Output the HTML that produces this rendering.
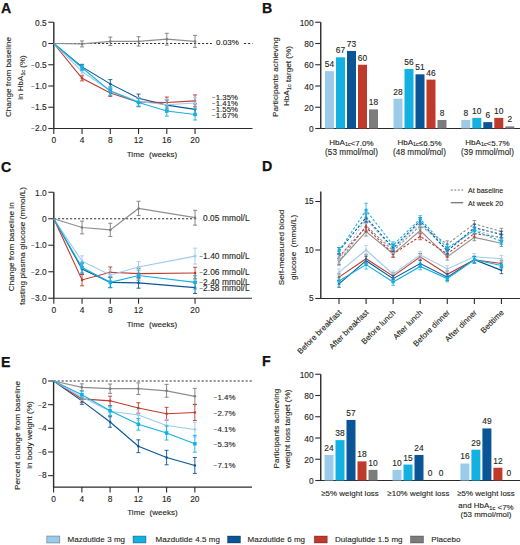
<!DOCTYPE html><html><head><meta charset="utf-8"><style>html,body{margin:0;padding:0;background:#fff;width:520px;height:545px;overflow:hidden}svg{display:block}text{font-family:"Liberation Sans",sans-serif;white-space:pre}</style></head><body><svg width="520" height="545" viewBox="0 0 520 545" font-family="Liberation Sans, sans-serif">
<rect width="520" height="545" fill="#fff"/>
<text x="0" y="0" font-size="14.2" font-weight="bold" fill="#111" stroke="#111" stroke-width="0.25" transform="translate(1,13)">A</text>
<line x1="54.00" y1="43.50" x2="212.00" y2="43.50" stroke="#333" stroke-width="1.0" stroke-dasharray="2.2,1.8"/>
<line x1="244.00" y1="43.50" x2="252.50" y2="43.50" stroke="#333" stroke-width="1.0" stroke-dasharray="2.2,1.8"/>
<line x1="53.80" y1="22.25" x2="53.80" y2="129.00" stroke="#2b2b2b" stroke-width="1.4" />
<line x1="53.80" y1="128.50" x2="252.50" y2="128.50" stroke="#2b2b2b" stroke-width="1.2" />
<line x1="48.30" y1="22.25" x2="53.80" y2="22.25" stroke="#2b2b2b" stroke-width="1.1" />
<text x="46.80" y="25.69" font-size="8.4" text-anchor="end" fill="#231f20" stroke="#231f20" stroke-width="0.12" letter-spacing="0.05" >0.5</text>
<line x1="48.30" y1="43.50" x2="53.80" y2="43.50" stroke="#2b2b2b" stroke-width="1.1" />
<text x="46.80" y="46.94" font-size="8.4" text-anchor="end" fill="#231f20" stroke="#231f20" stroke-width="0.12" letter-spacing="0.05" >0</text>
<line x1="48.30" y1="64.75" x2="53.80" y2="64.75" stroke="#2b2b2b" stroke-width="1.1" />
<text x="46.80" y="68.19" font-size="8.4" text-anchor="end" fill="#231f20" stroke="#231f20" stroke-width="0.12" letter-spacing="0.05" ><tspan font-size="6.2" dy="-0.6">−</tspan><tspan dy="0.6"></tspan>0.5</text>
<line x1="48.30" y1="86.00" x2="53.80" y2="86.00" stroke="#2b2b2b" stroke-width="1.1" />
<text x="46.80" y="89.44" font-size="8.4" text-anchor="end" fill="#231f20" stroke="#231f20" stroke-width="0.12" letter-spacing="0.05" ><tspan font-size="6.2" dy="-0.6">−</tspan><tspan dy="0.6"></tspan>1.0</text>
<line x1="48.30" y1="107.25" x2="53.80" y2="107.25" stroke="#2b2b2b" stroke-width="1.1" />
<text x="46.80" y="110.69" font-size="8.4" text-anchor="end" fill="#231f20" stroke="#231f20" stroke-width="0.12" letter-spacing="0.05" ><tspan font-size="6.2" dy="-0.6">−</tspan><tspan dy="0.6"></tspan>1.5</text>
<line x1="48.30" y1="128.50" x2="53.80" y2="128.50" stroke="#2b2b2b" stroke-width="1.1" />
<text x="46.80" y="131.94" font-size="8.4" text-anchor="end" fill="#231f20" stroke="#231f20" stroke-width="0.12" letter-spacing="0.05" ><tspan font-size="6.2" dy="-0.6">−</tspan><tspan dy="0.6"></tspan>2.0</text>
<line x1="53.80" y1="128.50" x2="53.80" y2="134.00" stroke="#2b2b2b" stroke-width="1.1" />
<text x="53.80" y="142.94" font-size="8.4" text-anchor="middle" fill="#231f20" stroke="#231f20" stroke-width="0.12" letter-spacing="0.05" >0</text>
<line x1="82.05" y1="128.50" x2="82.05" y2="134.00" stroke="#2b2b2b" stroke-width="1.1" />
<text x="82.05" y="142.94" font-size="8.4" text-anchor="middle" fill="#231f20" stroke="#231f20" stroke-width="0.12" letter-spacing="0.05" >4</text>
<line x1="110.30" y1="128.50" x2="110.30" y2="134.00" stroke="#2b2b2b" stroke-width="1.1" />
<text x="110.30" y="142.94" font-size="8.4" text-anchor="middle" fill="#231f20" stroke="#231f20" stroke-width="0.12" letter-spacing="0.05" >8</text>
<line x1="138.55" y1="128.50" x2="138.55" y2="134.00" stroke="#2b2b2b" stroke-width="1.1" />
<text x="138.55" y="142.94" font-size="8.4" text-anchor="middle" fill="#231f20" stroke="#231f20" stroke-width="0.12" letter-spacing="0.05" >12</text>
<line x1="166.80" y1="128.50" x2="166.80" y2="134.00" stroke="#2b2b2b" stroke-width="1.1" />
<text x="166.80" y="142.94" font-size="8.4" text-anchor="middle" fill="#231f20" stroke="#231f20" stroke-width="0.12" letter-spacing="0.05" >16</text>
<line x1="195.05" y1="128.50" x2="195.05" y2="134.00" stroke="#2b2b2b" stroke-width="1.1" />
<text x="195.05" y="142.94" font-size="8.4" text-anchor="middle" fill="#231f20" stroke="#231f20" stroke-width="0.12" letter-spacing="0.05" >20</text>
<polyline points="53.80,43.50 82.05,43.92 110.30,41.38 138.55,41.38 166.80,39.25 195.05,41.38" fill="none" stroke="#8e8e8e" stroke-width="1.25"/>
<line x1="82.05" y1="40.95" x2="82.05" y2="46.90" stroke="#7c7c7c" stroke-width="0.9" />
<line x1="80.05" y1="40.95" x2="84.05" y2="40.95" stroke="#7c7c7c" stroke-width="0.9" />
<line x1="80.05" y1="46.90" x2="84.05" y2="46.90" stroke="#7c7c7c" stroke-width="0.9" />
<circle cx="82.05" cy="43.92" r="1.25" fill="#7c7c7c"/>
<line x1="110.30" y1="37.12" x2="110.30" y2="45.62" stroke="#7c7c7c" stroke-width="0.9" />
<line x1="108.30" y1="37.12" x2="112.30" y2="37.12" stroke="#7c7c7c" stroke-width="0.9" />
<line x1="108.30" y1="45.62" x2="112.30" y2="45.62" stroke="#7c7c7c" stroke-width="0.9" />
<circle cx="110.30" cy="41.38" r="1.25" fill="#7c7c7c"/>
<line x1="138.55" y1="36.70" x2="138.55" y2="46.05" stroke="#7c7c7c" stroke-width="0.9" />
<line x1="136.55" y1="36.70" x2="140.55" y2="36.70" stroke="#7c7c7c" stroke-width="0.9" />
<line x1="136.55" y1="46.05" x2="140.55" y2="46.05" stroke="#7c7c7c" stroke-width="0.9" />
<circle cx="138.55" cy="41.38" r="1.25" fill="#7c7c7c"/>
<line x1="166.80" y1="33.30" x2="166.80" y2="45.20" stroke="#7c7c7c" stroke-width="0.9" />
<line x1="164.80" y1="33.30" x2="168.80" y2="33.30" stroke="#7c7c7c" stroke-width="0.9" />
<line x1="164.80" y1="45.20" x2="168.80" y2="45.20" stroke="#7c7c7c" stroke-width="0.9" />
<circle cx="166.80" cy="39.25" r="1.25" fill="#7c7c7c"/>
<line x1="195.05" y1="35.42" x2="195.05" y2="47.33" stroke="#7c7c7c" stroke-width="0.9" />
<line x1="193.05" y1="35.42" x2="197.05" y2="35.42" stroke="#7c7c7c" stroke-width="0.9" />
<line x1="193.05" y1="47.33" x2="197.05" y2="47.33" stroke="#7c7c7c" stroke-width="0.9" />
<circle cx="195.05" cy="41.38" r="1.25" fill="#7c7c7c"/>
<polyline points="53.80,43.50 82.05,66.88 110.30,83.88 138.55,98.33 166.80,105.12 195.05,109.38" fill="none" stroke="#0a5596" stroke-width="1.1"/>
<line x1="82.05" y1="64.33" x2="82.05" y2="69.42" stroke="#0a5596" stroke-width="0.9" />
<line x1="80.05" y1="64.33" x2="84.05" y2="64.33" stroke="#0a5596" stroke-width="0.9" />
<line x1="80.05" y1="69.42" x2="84.05" y2="69.42" stroke="#0a5596" stroke-width="0.9" />
<circle cx="82.05" cy="66.88" r="1.25" fill="#0a5596"/>
<line x1="110.30" y1="79.62" x2="110.30" y2="88.12" stroke="#0a5596" stroke-width="0.9" />
<line x1="108.30" y1="79.62" x2="112.30" y2="79.62" stroke="#0a5596" stroke-width="0.9" />
<line x1="108.30" y1="88.12" x2="112.30" y2="88.12" stroke="#0a5596" stroke-width="0.9" />
<circle cx="110.30" cy="83.88" r="1.25" fill="#0a5596"/>
<line x1="138.55" y1="94.08" x2="138.55" y2="102.58" stroke="#0a5596" stroke-width="0.9" />
<line x1="136.55" y1="94.08" x2="140.55" y2="94.08" stroke="#0a5596" stroke-width="0.9" />
<line x1="136.55" y1="102.58" x2="140.55" y2="102.58" stroke="#0a5596" stroke-width="0.9" />
<circle cx="138.55" cy="98.33" r="1.25" fill="#0a5596"/>
<line x1="166.80" y1="100.03" x2="166.80" y2="110.22" stroke="#0a5596" stroke-width="0.9" />
<line x1="164.80" y1="100.03" x2="168.80" y2="100.03" stroke="#0a5596" stroke-width="0.9" />
<line x1="164.80" y1="110.22" x2="168.80" y2="110.22" stroke="#0a5596" stroke-width="0.9" />
<circle cx="166.80" cy="105.12" r="1.25" fill="#0a5596"/>
<line x1="195.05" y1="103.85" x2="195.05" y2="114.90" stroke="#0a5596" stroke-width="0.9" />
<line x1="193.05" y1="103.85" x2="197.05" y2="103.85" stroke="#0a5596" stroke-width="0.9" />
<line x1="193.05" y1="114.90" x2="197.05" y2="114.90" stroke="#0a5596" stroke-width="0.9" />
<circle cx="195.05" cy="109.38" r="1.25" fill="#0a5596"/>
<polyline points="53.80,43.50 82.05,78.35 110.30,93.01 138.55,102.15 166.80,102.57 195.05,100.88" fill="none" stroke="#c03a2b" stroke-width="1.1"/>
<line x1="82.05" y1="75.80" x2="82.05" y2="80.90" stroke="#c03a2b" stroke-width="0.9" />
<line x1="80.05" y1="75.80" x2="84.05" y2="75.80" stroke="#c03a2b" stroke-width="0.9" />
<line x1="80.05" y1="80.90" x2="84.05" y2="80.90" stroke="#c03a2b" stroke-width="0.9" />
<circle cx="82.05" cy="78.35" r="1.25" fill="#c03a2b"/>
<line x1="110.30" y1="89.61" x2="110.30" y2="96.41" stroke="#c03a2b" stroke-width="0.9" />
<line x1="108.30" y1="89.61" x2="112.30" y2="89.61" stroke="#c03a2b" stroke-width="0.9" />
<line x1="108.30" y1="96.41" x2="112.30" y2="96.41" stroke="#c03a2b" stroke-width="0.9" />
<circle cx="110.30" cy="93.01" r="1.25" fill="#c03a2b"/>
<line x1="138.55" y1="97.90" x2="138.55" y2="106.40" stroke="#c03a2b" stroke-width="0.9" />
<line x1="136.55" y1="97.90" x2="140.55" y2="97.90" stroke="#c03a2b" stroke-width="0.9" />
<line x1="136.55" y1="106.40" x2="140.55" y2="106.40" stroke="#c03a2b" stroke-width="0.9" />
<circle cx="138.55" cy="102.15" r="1.25" fill="#c03a2b"/>
<line x1="166.80" y1="97.05" x2="166.80" y2="108.10" stroke="#c03a2b" stroke-width="0.9" />
<line x1="164.80" y1="97.05" x2="168.80" y2="97.05" stroke="#c03a2b" stroke-width="0.9" />
<line x1="164.80" y1="108.10" x2="168.80" y2="108.10" stroke="#c03a2b" stroke-width="0.9" />
<circle cx="166.80" cy="102.57" r="1.25" fill="#c03a2b"/>
<line x1="195.05" y1="94.92" x2="195.05" y2="106.83" stroke="#c03a2b" stroke-width="0.9" />
<line x1="193.05" y1="94.92" x2="197.05" y2="94.92" stroke="#c03a2b" stroke-width="0.9" />
<line x1="193.05" y1="106.83" x2="197.05" y2="106.83" stroke="#c03a2b" stroke-width="0.9" />
<circle cx="195.05" cy="100.88" r="1.25" fill="#c03a2b"/>
<polyline points="53.80,43.50 82.05,71.55 110.30,90.68 138.55,101.51 166.80,104.70 195.05,103.00" fill="none" stroke="#9ccbea" stroke-width="1.1"/>
<line x1="82.05" y1="69.00" x2="82.05" y2="74.10" stroke="#9ccbea" stroke-width="0.9" />
<line x1="80.05" y1="69.00" x2="84.05" y2="69.00" stroke="#9ccbea" stroke-width="0.9" />
<line x1="80.05" y1="74.10" x2="84.05" y2="74.10" stroke="#9ccbea" stroke-width="0.9" />
<path d="M82.05 69.75L83.85 71.55L82.05 73.35L80.25 71.55Z" fill="#9ccbea"/>
<line x1="110.30" y1="86.43" x2="110.30" y2="94.93" stroke="#9ccbea" stroke-width="0.9" />
<line x1="108.30" y1="86.43" x2="112.30" y2="86.43" stroke="#9ccbea" stroke-width="0.9" />
<line x1="108.30" y1="94.93" x2="112.30" y2="94.93" stroke="#9ccbea" stroke-width="0.9" />
<path d="M110.30 88.88L112.10 90.68L110.30 92.48L108.50 90.68Z" fill="#9ccbea"/>
<line x1="138.55" y1="97.26" x2="138.55" y2="105.76" stroke="#9ccbea" stroke-width="0.9" />
<line x1="136.55" y1="97.26" x2="140.55" y2="97.26" stroke="#9ccbea" stroke-width="0.9" />
<line x1="136.55" y1="105.76" x2="140.55" y2="105.76" stroke="#9ccbea" stroke-width="0.9" />
<path d="M138.55 99.71L140.35 101.51L138.55 103.31L136.75 101.51Z" fill="#9ccbea"/>
<line x1="166.80" y1="99.17" x2="166.80" y2="110.22" stroke="#9ccbea" stroke-width="0.9" />
<line x1="164.80" y1="99.17" x2="168.80" y2="99.17" stroke="#9ccbea" stroke-width="0.9" />
<line x1="164.80" y1="110.22" x2="168.80" y2="110.22" stroke="#9ccbea" stroke-width="0.9" />
<path d="M166.80 102.90L168.60 104.70L166.80 106.50L165.00 104.70Z" fill="#9ccbea"/>
<line x1="195.05" y1="97.47" x2="195.05" y2="108.53" stroke="#9ccbea" stroke-width="0.9" />
<line x1="193.05" y1="97.47" x2="197.05" y2="97.47" stroke="#9ccbea" stroke-width="0.9" />
<line x1="193.05" y1="108.53" x2="197.05" y2="108.53" stroke="#9ccbea" stroke-width="0.9" />
<path d="M195.05 101.20L196.85 103.00L195.05 104.80L193.25 103.00Z" fill="#9ccbea"/>
<polyline points="53.80,43.50 82.05,67.72 110.30,91.10 138.55,102.57 166.80,111.08 195.05,114.47" fill="none" stroke="#13b1e2" stroke-width="1.1"/>
<line x1="82.05" y1="65.17" x2="82.05" y2="70.27" stroke="#13b1e2" stroke-width="0.9" />
<line x1="80.05" y1="65.17" x2="84.05" y2="65.17" stroke="#13b1e2" stroke-width="0.9" />
<line x1="80.05" y1="70.27" x2="84.05" y2="70.27" stroke="#13b1e2" stroke-width="0.9" />
<rect x="80.30" y="65.97" width="3.50" height="3.50" fill="#13b1e2"/>
<line x1="110.30" y1="86.85" x2="110.30" y2="95.35" stroke="#13b1e2" stroke-width="0.9" />
<line x1="108.30" y1="86.85" x2="112.30" y2="86.85" stroke="#13b1e2" stroke-width="0.9" />
<line x1="108.30" y1="95.35" x2="112.30" y2="95.35" stroke="#13b1e2" stroke-width="0.9" />
<rect x="108.55" y="89.35" width="3.50" height="3.50" fill="#13b1e2"/>
<line x1="138.55" y1="98.32" x2="138.55" y2="106.82" stroke="#13b1e2" stroke-width="0.9" />
<line x1="136.55" y1="98.32" x2="140.55" y2="98.32" stroke="#13b1e2" stroke-width="0.9" />
<line x1="136.55" y1="106.82" x2="140.55" y2="106.82" stroke="#13b1e2" stroke-width="0.9" />
<rect x="136.80" y="100.82" width="3.50" height="3.50" fill="#13b1e2"/>
<line x1="166.80" y1="105.98" x2="166.80" y2="116.17" stroke="#13b1e2" stroke-width="0.9" />
<line x1="164.80" y1="105.98" x2="168.80" y2="105.98" stroke="#13b1e2" stroke-width="0.9" />
<line x1="164.80" y1="116.17" x2="168.80" y2="116.17" stroke="#13b1e2" stroke-width="0.9" />
<rect x="165.05" y="109.33" width="3.50" height="3.50" fill="#13b1e2"/>
<line x1="195.05" y1="108.95" x2="195.05" y2="120.00" stroke="#13b1e2" stroke-width="0.9" />
<line x1="193.05" y1="108.95" x2="197.05" y2="108.95" stroke="#13b1e2" stroke-width="0.9" />
<line x1="193.05" y1="120.00" x2="197.05" y2="120.00" stroke="#13b1e2" stroke-width="0.9" />
<rect x="193.30" y="112.72" width="3.50" height="3.50" fill="#13b1e2"/>
<text x="216.00" y="45.30" font-size="8.0" text-anchor="start" fill="#231f20" stroke="#231f20" stroke-width="0.12" letter-spacing="0.05" >0.03%</text>
<text x="212.00" y="100.23" font-size="7.8" text-anchor="start" fill="#231f20" stroke="#231f20" stroke-width="0.12" letter-spacing="0.05" ><tspan font-size="6.2" dy="-0.6">−</tspan><tspan dy="0.6"></tspan>1.35%</text>
<text x="212.00" y="106.73" font-size="7.8" text-anchor="start" fill="#231f20" stroke="#231f20" stroke-width="0.12" letter-spacing="0.05" ><tspan font-size="6.2" dy="-0.6">−</tspan><tspan dy="0.6"></tspan>1.41%</text>
<text x="212.00" y="112.73" font-size="7.8" text-anchor="start" fill="#231f20" stroke="#231f20" stroke-width="0.12" letter-spacing="0.05" ><tspan font-size="6.2" dy="-0.6">−</tspan><tspan dy="0.6"></tspan>1.55%</text>
<text x="212.00" y="118.73" font-size="7.8" text-anchor="start" fill="#231f20" stroke="#231f20" stroke-width="0.12" letter-spacing="0.05" ><tspan font-size="6.2" dy="-0.6">−</tspan><tspan dy="0.6"></tspan>1.67%</text>
<text x="152.00" y="156.80" font-size="8.0" text-anchor="middle" fill="#231f20" stroke="#231f20" stroke-width="0.12" letter-spacing="0.05" >Time  (weeks)</text>
<text x="0" y="0" font-size="8.1" text-anchor="middle" fill="#231f20" stroke="#231f20" stroke-width="0.12" letter-spacing="0.05" transform="translate(11.43,77.00) rotate(-90)">Change from baseline</text>
<text x="0" y="0" font-size="7.9" text-anchor="middle" fill="#231f20" stroke="#231f20" stroke-width="0.12" letter-spacing="0.05" transform="translate(23.16,77.50) rotate(-90)">in HbA<tspan font-size="5.6" dy="1.8" letter-spacing="0">1c</tspan><tspan dy="-1.8"></tspan> (%)</text>
<text x="0" y="0" font-size="14.2" font-weight="bold" fill="#111" stroke="#111" stroke-width="0.25" transform="translate(262,13)">B</text>
<line x1="320.75" y1="22.25" x2="320.75" y2="129.00" stroke="#2b2b2b" stroke-width="1.4" />
<line x1="320.75" y1="128.50" x2="520.00" y2="128.50" stroke="#2b2b2b" stroke-width="1.2" />
<line x1="315.25" y1="22.25" x2="320.75" y2="22.25" stroke="#2b2b2b" stroke-width="1.1" />
<text x="313.75" y="25.79" font-size="8.4" text-anchor="end" fill="#231f20" stroke="#231f20" stroke-width="0.12" letter-spacing="0.05" >100</text>
<line x1="315.25" y1="43.50" x2="320.75" y2="43.50" stroke="#2b2b2b" stroke-width="1.1" />
<text x="313.75" y="47.04" font-size="8.4" text-anchor="end" fill="#231f20" stroke="#231f20" stroke-width="0.12" letter-spacing="0.05" >80</text>
<line x1="315.25" y1="64.75" x2="320.75" y2="64.75" stroke="#2b2b2b" stroke-width="1.1" />
<text x="313.75" y="68.29" font-size="8.4" text-anchor="end" fill="#231f20" stroke="#231f20" stroke-width="0.12" letter-spacing="0.05" >60</text>
<line x1="315.25" y1="86.00" x2="320.75" y2="86.00" stroke="#2b2b2b" stroke-width="1.1" />
<text x="313.75" y="89.54" font-size="8.4" text-anchor="end" fill="#231f20" stroke="#231f20" stroke-width="0.12" letter-spacing="0.05" >40</text>
<line x1="315.25" y1="107.25" x2="320.75" y2="107.25" stroke="#2b2b2b" stroke-width="1.1" />
<text x="313.75" y="110.79" font-size="8.4" text-anchor="end" fill="#231f20" stroke="#231f20" stroke-width="0.12" letter-spacing="0.05" >20</text>
<line x1="315.25" y1="128.50" x2="320.75" y2="128.50" stroke="#2b2b2b" stroke-width="1.1" />
<text x="313.75" y="132.04" font-size="8.4" text-anchor="end" fill="#231f20" stroke="#231f20" stroke-width="0.12" letter-spacing="0.05" >0</text>
<rect x="325.00" y="71.12" width="9" height="57.38" fill="#9ccbea"/>
<text x="329.50" y="67.06" font-size="8.4" text-anchor="middle" fill="#231f20" stroke="#231f20" stroke-width="0.12" letter-spacing="0.05" >54</text>
<rect x="336.00" y="57.31" width="9" height="71.19" fill="#13b1e2"/>
<text x="340.50" y="53.25" font-size="8.4" text-anchor="middle" fill="#231f20" stroke="#231f20" stroke-width="0.12" letter-spacing="0.05" >67</text>
<rect x="347.00" y="50.94" width="9" height="77.56" fill="#0a5596"/>
<text x="351.50" y="46.88" font-size="8.4" text-anchor="middle" fill="#231f20" stroke="#231f20" stroke-width="0.12" letter-spacing="0.05" >73</text>
<rect x="358.00" y="64.75" width="9" height="63.75" fill="#c03a2b"/>
<text x="362.50" y="60.69" font-size="8.4" text-anchor="middle" fill="#231f20" stroke="#231f20" stroke-width="0.12" letter-spacing="0.05" >60</text>
<rect x="369.00" y="109.38" width="9" height="19.12" fill="#7c7c7c"/>
<text x="373.50" y="105.31" font-size="8.4" text-anchor="middle" fill="#231f20" stroke="#231f20" stroke-width="0.12" letter-spacing="0.05" >18</text>
<rect x="393.50" y="98.75" width="9" height="29.75" fill="#9ccbea"/>
<text x="398.00" y="94.69" font-size="8.4" text-anchor="middle" fill="#231f20" stroke="#231f20" stroke-width="0.12" letter-spacing="0.05" >28</text>
<rect x="404.50" y="69.00" width="9" height="59.50" fill="#13b1e2"/>
<text x="409.00" y="64.94" font-size="8.4" text-anchor="middle" fill="#231f20" stroke="#231f20" stroke-width="0.12" letter-spacing="0.05" >56</text>
<rect x="415.50" y="74.31" width="9" height="54.19" fill="#0a5596"/>
<text x="420.00" y="70.25" font-size="8.4" text-anchor="middle" fill="#231f20" stroke="#231f20" stroke-width="0.12" letter-spacing="0.05" >51</text>
<rect x="426.50" y="79.62" width="9" height="48.88" fill="#c03a2b"/>
<text x="431.00" y="75.56" font-size="8.4" text-anchor="middle" fill="#231f20" stroke="#231f20" stroke-width="0.12" letter-spacing="0.05" >46</text>
<rect x="437.50" y="120.00" width="9" height="8.50" fill="#7c7c7c"/>
<text x="442.00" y="115.94" font-size="8.4" text-anchor="middle" fill="#231f20" stroke="#231f20" stroke-width="0.12" letter-spacing="0.05" >8</text>
<rect x="461.30" y="120.00" width="9" height="8.50" fill="#9ccbea"/>
<text x="465.80" y="115.94" font-size="8.4" text-anchor="middle" fill="#231f20" stroke="#231f20" stroke-width="0.12" letter-spacing="0.05" >8</text>
<rect x="472.30" y="117.88" width="9" height="10.62" fill="#13b1e2"/>
<text x="476.80" y="113.81" font-size="8.4" text-anchor="middle" fill="#231f20" stroke="#231f20" stroke-width="0.12" letter-spacing="0.05" >10</text>
<rect x="483.30" y="122.12" width="9" height="6.38" fill="#0a5596"/>
<text x="487.80" y="118.06" font-size="8.4" text-anchor="middle" fill="#231f20" stroke="#231f20" stroke-width="0.12" letter-spacing="0.05" >6</text>
<rect x="494.30" y="117.88" width="9" height="10.62" fill="#c03a2b"/>
<text x="498.80" y="113.81" font-size="8.4" text-anchor="middle" fill="#231f20" stroke="#231f20" stroke-width="0.12" letter-spacing="0.05" >10</text>
<rect x="505.30" y="126.38" width="9" height="2.12" fill="#7c7c7c"/>
<text x="509.80" y="122.31" font-size="8.4" text-anchor="middle" fill="#231f20" stroke="#231f20" stroke-width="0.12" letter-spacing="0.05" >2</text>
<text x="351.50" y="144.60" font-size="8.0" text-anchor="middle" fill="#231f20" stroke="#231f20" stroke-width="0.12" letter-spacing="0.05" >HbA<tspan font-size="5.3" dy="1.8" letter-spacing="0">1c</tspan><tspan dy="-1.8" dx="0.6"></tspan>&lt;7.0%</text>
<text x="351.50" y="155.17" font-size="8.2" text-anchor="middle" fill="#231f20" stroke="#231f20" stroke-width="0.12" letter-spacing="0.05" >(53 mmol/mol)</text>
<text x="419.50" y="144.60" font-size="8.0" text-anchor="middle" fill="#231f20" stroke="#231f20" stroke-width="0.12" letter-spacing="0.05" >HbA<tspan font-size="5.3" dy="1.8" letter-spacing="0">1c</tspan><tspan dy="-1.8" dx="0.6"></tspan>≤6.5%</text>
<text x="419.50" y="155.17" font-size="8.2" text-anchor="middle" fill="#231f20" stroke="#231f20" stroke-width="0.12" letter-spacing="0.05" >(48 mmol/mol)</text>
<text x="487.50" y="144.60" font-size="8.0" text-anchor="middle" fill="#231f20" stroke="#231f20" stroke-width="0.12" letter-spacing="0.05" >HbA<tspan font-size="5.3" dy="1.8" letter-spacing="0">1c</tspan><tspan dy="-1.8" dx="0.6"></tspan>&lt;5.7%</text>
<text x="487.50" y="155.17" font-size="8.2" text-anchor="middle" fill="#231f20" stroke="#231f20" stroke-width="0.12" letter-spacing="0.05" >(39 mmol/mol)</text>
<text x="0" y="0" font-size="8.1" text-anchor="middle" fill="#231f20" stroke="#231f20" stroke-width="0.12" letter-spacing="0.05" transform="translate(278.33,77.00) rotate(-90)">Participants achieving</text>
<text x="0" y="0" font-size="8.1" text-anchor="middle" fill="#231f20" stroke="#231f20" stroke-width="0.12" letter-spacing="0.05" transform="translate(289.03,76.00) rotate(-90)">HbA<tspan font-size="5.6" dy="1.8" letter-spacing="0">1c</tspan><tspan dy="-1.8"></tspan> target (%)</text>
<text x="0" y="0" font-size="14.2" font-weight="bold" fill="#111" stroke="#111" stroke-width="0.25" transform="translate(262,366)">F</text>
<line x1="320.75" y1="374.25" x2="320.75" y2="481.00" stroke="#2b2b2b" stroke-width="1.4" />
<line x1="320.75" y1="480.50" x2="520.00" y2="480.50" stroke="#2b2b2b" stroke-width="1.2" />
<line x1="315.25" y1="374.25" x2="320.75" y2="374.25" stroke="#2b2b2b" stroke-width="1.1" />
<text x="313.75" y="377.79" font-size="8.4" text-anchor="end" fill="#231f20" stroke="#231f20" stroke-width="0.12" letter-spacing="0.05" >100</text>
<line x1="315.25" y1="395.50" x2="320.75" y2="395.50" stroke="#2b2b2b" stroke-width="1.1" />
<text x="313.75" y="399.04" font-size="8.4" text-anchor="end" fill="#231f20" stroke="#231f20" stroke-width="0.12" letter-spacing="0.05" >80</text>
<line x1="315.25" y1="416.75" x2="320.75" y2="416.75" stroke="#2b2b2b" stroke-width="1.1" />
<text x="313.75" y="420.29" font-size="8.4" text-anchor="end" fill="#231f20" stroke="#231f20" stroke-width="0.12" letter-spacing="0.05" >60</text>
<line x1="315.25" y1="438.00" x2="320.75" y2="438.00" stroke="#2b2b2b" stroke-width="1.1" />
<text x="313.75" y="441.54" font-size="8.4" text-anchor="end" fill="#231f20" stroke="#231f20" stroke-width="0.12" letter-spacing="0.05" >40</text>
<line x1="315.25" y1="459.25" x2="320.75" y2="459.25" stroke="#2b2b2b" stroke-width="1.1" />
<text x="313.75" y="462.79" font-size="8.4" text-anchor="end" fill="#231f20" stroke="#231f20" stroke-width="0.12" letter-spacing="0.05" >20</text>
<line x1="315.25" y1="480.50" x2="320.75" y2="480.50" stroke="#2b2b2b" stroke-width="1.1" />
<text x="313.75" y="484.04" font-size="8.4" text-anchor="end" fill="#231f20" stroke="#231f20" stroke-width="0.12" letter-spacing="0.05" >0</text>
<rect x="324.50" y="455.00" width="9" height="25.50" fill="#9ccbea"/>
<text x="329.00" y="450.94" font-size="8.4" text-anchor="middle" fill="#231f20" stroke="#231f20" stroke-width="0.12" letter-spacing="0.05" >24</text>
<rect x="335.50" y="440.12" width="9" height="40.38" fill="#13b1e2"/>
<text x="340.00" y="436.06" font-size="8.4" text-anchor="middle" fill="#231f20" stroke="#231f20" stroke-width="0.12" letter-spacing="0.05" >38</text>
<rect x="346.50" y="419.94" width="9" height="60.56" fill="#0a5596"/>
<text x="351.00" y="415.88" font-size="8.4" text-anchor="middle" fill="#231f20" stroke="#231f20" stroke-width="0.12" letter-spacing="0.05" >57</text>
<rect x="357.50" y="461.38" width="9" height="19.12" fill="#c03a2b"/>
<text x="362.00" y="457.31" font-size="8.4" text-anchor="middle" fill="#231f20" stroke="#231f20" stroke-width="0.12" letter-spacing="0.05" >18</text>
<rect x="368.50" y="469.88" width="9" height="10.62" fill="#7c7c7c"/>
<text x="373.00" y="465.81" font-size="8.4" text-anchor="middle" fill="#231f20" stroke="#231f20" stroke-width="0.12" letter-spacing="0.05" >10</text>
<rect x="392.50" y="469.88" width="9" height="10.62" fill="#9ccbea"/>
<text x="397.00" y="465.81" font-size="8.4" text-anchor="middle" fill="#231f20" stroke="#231f20" stroke-width="0.12" letter-spacing="0.05" >10</text>
<rect x="403.50" y="464.56" width="9" height="15.94" fill="#13b1e2"/>
<text x="408.00" y="460.50" font-size="8.4" text-anchor="middle" fill="#231f20" stroke="#231f20" stroke-width="0.12" letter-spacing="0.05" >15</text>
<rect x="414.50" y="455.00" width="9" height="25.50" fill="#0a5596"/>
<text x="419.00" y="450.94" font-size="8.4" text-anchor="middle" fill="#231f20" stroke="#231f20" stroke-width="0.12" letter-spacing="0.05" >24</text>
<text x="430.00" y="476.44" font-size="8.4" text-anchor="middle" fill="#231f20" stroke="#231f20" stroke-width="0.12" letter-spacing="0.05" >0</text>
<text x="441.00" y="476.44" font-size="8.4" text-anchor="middle" fill="#231f20" stroke="#231f20" stroke-width="0.12" letter-spacing="0.05" >0</text>
<rect x="460.40" y="463.50" width="9" height="17.00" fill="#9ccbea"/>
<text x="464.90" y="459.44" font-size="8.4" text-anchor="middle" fill="#231f20" stroke="#231f20" stroke-width="0.12" letter-spacing="0.05" >16</text>
<rect x="471.40" y="449.69" width="9" height="30.81" fill="#13b1e2"/>
<text x="475.90" y="445.63" font-size="8.4" text-anchor="middle" fill="#231f20" stroke="#231f20" stroke-width="0.12" letter-spacing="0.05" >29</text>
<rect x="482.40" y="428.44" width="9" height="52.06" fill="#0a5596"/>
<text x="486.90" y="424.38" font-size="8.4" text-anchor="middle" fill="#231f20" stroke="#231f20" stroke-width="0.12" letter-spacing="0.05" >49</text>
<rect x="493.40" y="467.75" width="9" height="12.75" fill="#c03a2b"/>
<text x="497.90" y="463.69" font-size="8.4" text-anchor="middle" fill="#231f20" stroke="#231f20" stroke-width="0.12" letter-spacing="0.05" >12</text>
<text x="508.90" y="476.44" font-size="8.4" text-anchor="middle" fill="#231f20" stroke="#231f20" stroke-width="0.12" letter-spacing="0.05" >0</text>
<text x="350.00" y="496.26" font-size="7.9" text-anchor="middle" fill="#231f20" stroke="#231f20" stroke-width="0.12" letter-spacing="0.05" >≥5% weight loss</text>
<text x="418.40" y="496.46" font-size="7.9" text-anchor="middle" fill="#231f20" stroke="#231f20" stroke-width="0.12" letter-spacing="0.05" >≥10% weight loss</text>
<text x="486.00" y="496.46" font-size="7.9" text-anchor="middle" fill="#231f20" stroke="#231f20" stroke-width="0.12" letter-spacing="0.05" >≥5% weight loss</text>
<text x="486.00" y="507.76" font-size="7.9" text-anchor="middle" fill="#231f20" stroke="#231f20" stroke-width="0.12" letter-spacing="0.05" >and HbA<tspan font-size="5.6" dy="1.8" letter-spacing="0">1c</tspan><tspan dy="-1.8"></tspan> &lt;7%</text>
<text x="486.00" y="517.16" font-size="7.9" text-anchor="middle" fill="#231f20" stroke="#231f20" stroke-width="0.12" letter-spacing="0.05" >(53 mmol/mol)</text>
<text x="0" y="0" font-size="8.1" text-anchor="middle" fill="#231f20" stroke="#231f20" stroke-width="0.12" letter-spacing="0.05" transform="translate(279.23,428.60) rotate(-90)">Participants achieving</text>
<text x="0" y="0" font-size="8.1" text-anchor="middle" fill="#231f20" stroke="#231f20" stroke-width="0.12" letter-spacing="0.05" transform="translate(290.33,429.00) rotate(-90)">weight loss target (%)</text>
<text x="0" y="0" font-size="14.2" font-weight="bold" fill="#111" stroke="#111" stroke-width="0.25" transform="translate(1,172)">C</text>
<line x1="54.00" y1="218.75" x2="198.00" y2="218.75" stroke="#333" stroke-width="1.0" stroke-dasharray="2.2,1.8"/>
<line x1="53.80" y1="192.25" x2="53.80" y2="298.75" stroke="#2b2b2b" stroke-width="1.4" />
<line x1="53.80" y1="298.25" x2="252.00" y2="298.25" stroke="#2b2b2b" stroke-width="1.2" />
<line x1="48.30" y1="192.25" x2="53.80" y2="192.25" stroke="#2b2b2b" stroke-width="1.1" />
<text x="46.80" y="195.69" font-size="8.4" text-anchor="end" fill="#231f20" stroke="#231f20" stroke-width="0.12" letter-spacing="0.05" >1.0</text>
<line x1="48.30" y1="218.75" x2="53.80" y2="218.75" stroke="#2b2b2b" stroke-width="1.1" />
<text x="46.80" y="222.19" font-size="8.4" text-anchor="end" fill="#231f20" stroke="#231f20" stroke-width="0.12" letter-spacing="0.05" >0</text>
<line x1="48.30" y1="245.25" x2="53.80" y2="245.25" stroke="#2b2b2b" stroke-width="1.1" />
<text x="46.80" y="248.69" font-size="8.4" text-anchor="end" fill="#231f20" stroke="#231f20" stroke-width="0.12" letter-spacing="0.05" ><tspan font-size="6.2" dy="-0.6">−</tspan><tspan dy="0.6"></tspan>1.0</text>
<line x1="48.30" y1="271.75" x2="53.80" y2="271.75" stroke="#2b2b2b" stroke-width="1.1" />
<text x="46.80" y="275.19" font-size="8.4" text-anchor="end" fill="#231f20" stroke="#231f20" stroke-width="0.12" letter-spacing="0.05" ><tspan font-size="6.2" dy="-0.6">−</tspan><tspan dy="0.6"></tspan>2.0</text>
<line x1="48.30" y1="298.25" x2="53.80" y2="298.25" stroke="#2b2b2b" stroke-width="1.1" />
<text x="46.80" y="301.69" font-size="8.4" text-anchor="end" fill="#231f20" stroke="#231f20" stroke-width="0.12" letter-spacing="0.05" ><tspan font-size="6.2" dy="-0.6">−</tspan><tspan dy="0.6"></tspan>3.0</text>
<line x1="53.80" y1="298.25" x2="53.80" y2="303.75" stroke="#2b2b2b" stroke-width="1.1" />
<text x="53.80" y="312.69" font-size="8.4" text-anchor="middle" fill="#231f20" stroke="#231f20" stroke-width="0.12" letter-spacing="0.05" >0</text>
<line x1="82.05" y1="298.25" x2="82.05" y2="303.75" stroke="#2b2b2b" stroke-width="1.1" />
<text x="82.05" y="312.69" font-size="8.4" text-anchor="middle" fill="#231f20" stroke="#231f20" stroke-width="0.12" letter-spacing="0.05" >4</text>
<line x1="110.30" y1="298.25" x2="110.30" y2="303.75" stroke="#2b2b2b" stroke-width="1.1" />
<text x="110.30" y="312.69" font-size="8.4" text-anchor="middle" fill="#231f20" stroke="#231f20" stroke-width="0.12" letter-spacing="0.05" >8</text>
<line x1="138.55" y1="298.25" x2="138.55" y2="303.75" stroke="#2b2b2b" stroke-width="1.1" />
<text x="138.55" y="312.69" font-size="8.4" text-anchor="middle" fill="#231f20" stroke="#231f20" stroke-width="0.12" letter-spacing="0.05" >12</text>
<line x1="195.05" y1="298.25" x2="195.05" y2="303.75" stroke="#2b2b2b" stroke-width="1.1" />
<text x="195.05" y="312.69" font-size="8.4" text-anchor="middle" fill="#231f20" stroke="#231f20" stroke-width="0.12" letter-spacing="0.05" >20</text>
<polyline points="53.80,218.75 82.05,227.50 110.30,229.88 138.55,208.41 195.05,217.69" fill="none" stroke="#8e8e8e" stroke-width="1.25"/>
<line x1="82.05" y1="221.13" x2="82.05" y2="233.86" stroke="#7c7c7c" stroke-width="0.9" />
<line x1="80.05" y1="221.13" x2="84.05" y2="221.13" stroke="#7c7c7c" stroke-width="0.9" />
<line x1="80.05" y1="233.86" x2="84.05" y2="233.86" stroke="#7c7c7c" stroke-width="0.9" />
<circle cx="82.05" cy="227.50" r="1.25" fill="#7c7c7c"/>
<line x1="110.30" y1="223.25" x2="110.30" y2="236.50" stroke="#7c7c7c" stroke-width="0.9" />
<line x1="108.30" y1="223.25" x2="112.30" y2="223.25" stroke="#7c7c7c" stroke-width="0.9" />
<line x1="108.30" y1="236.50" x2="112.30" y2="236.50" stroke="#7c7c7c" stroke-width="0.9" />
<circle cx="110.30" cy="229.88" r="1.25" fill="#7c7c7c"/>
<line x1="138.55" y1="201.26" x2="138.55" y2="215.57" stroke="#7c7c7c" stroke-width="0.9" />
<line x1="136.55" y1="201.26" x2="140.55" y2="201.26" stroke="#7c7c7c" stroke-width="0.9" />
<line x1="136.55" y1="215.57" x2="140.55" y2="215.57" stroke="#7c7c7c" stroke-width="0.9" />
<circle cx="138.55" cy="208.41" r="1.25" fill="#7c7c7c"/>
<line x1="195.05" y1="210.27" x2="195.05" y2="225.11" stroke="#7c7c7c" stroke-width="0.9" />
<line x1="193.05" y1="210.27" x2="197.05" y2="210.27" stroke="#7c7c7c" stroke-width="0.9" />
<line x1="193.05" y1="225.11" x2="197.05" y2="225.11" stroke="#7c7c7c" stroke-width="0.9" />
<circle cx="195.05" cy="217.69" r="1.25" fill="#7c7c7c"/>
<polyline points="53.80,218.75 82.05,269.10 110.30,282.35 138.55,282.88 195.05,287.65" fill="none" stroke="#0a5596" stroke-width="1.1"/>
<line x1="82.05" y1="263.80" x2="82.05" y2="274.40" stroke="#0a5596" stroke-width="0.9" />
<line x1="80.05" y1="263.80" x2="84.05" y2="263.80" stroke="#0a5596" stroke-width="0.9" />
<line x1="80.05" y1="274.40" x2="84.05" y2="274.40" stroke="#0a5596" stroke-width="0.9" />
<circle cx="82.05" cy="269.10" r="1.25" fill="#0a5596"/>
<line x1="110.30" y1="277.05" x2="110.30" y2="287.65" stroke="#0a5596" stroke-width="0.9" />
<line x1="108.30" y1="277.05" x2="112.30" y2="277.05" stroke="#0a5596" stroke-width="0.9" />
<line x1="108.30" y1="287.65" x2="112.30" y2="287.65" stroke="#0a5596" stroke-width="0.9" />
<circle cx="110.30" cy="282.35" r="1.25" fill="#0a5596"/>
<line x1="138.55" y1="277.58" x2="138.55" y2="288.18" stroke="#0a5596" stroke-width="0.9" />
<line x1="136.55" y1="277.58" x2="140.55" y2="277.58" stroke="#0a5596" stroke-width="0.9" />
<line x1="136.55" y1="288.18" x2="140.55" y2="288.18" stroke="#0a5596" stroke-width="0.9" />
<circle cx="138.55" cy="282.88" r="1.25" fill="#0a5596"/>
<line x1="195.05" y1="281.82" x2="195.05" y2="293.48" stroke="#0a5596" stroke-width="0.9" />
<line x1="193.05" y1="281.82" x2="197.05" y2="281.82" stroke="#0a5596" stroke-width="0.9" />
<line x1="193.05" y1="293.48" x2="197.05" y2="293.48" stroke="#0a5596" stroke-width="0.9" />
<circle cx="195.05" cy="287.65" r="1.25" fill="#0a5596"/>
<polyline points="53.80,218.75 82.05,279.97 110.30,272.28 138.55,273.61 195.05,273.07" fill="none" stroke="#c03a2b" stroke-width="1.1"/>
<line x1="82.05" y1="274.14" x2="82.05" y2="285.80" stroke="#c03a2b" stroke-width="0.9" />
<line x1="80.05" y1="274.14" x2="84.05" y2="274.14" stroke="#c03a2b" stroke-width="0.9" />
<line x1="80.05" y1="285.80" x2="84.05" y2="285.80" stroke="#c03a2b" stroke-width="0.9" />
<circle cx="82.05" cy="279.97" r="1.25" fill="#c03a2b"/>
<line x1="110.30" y1="266.98" x2="110.30" y2="277.58" stroke="#c03a2b" stroke-width="0.9" />
<line x1="108.30" y1="266.98" x2="112.30" y2="266.98" stroke="#c03a2b" stroke-width="0.9" />
<line x1="108.30" y1="277.58" x2="112.30" y2="277.58" stroke="#c03a2b" stroke-width="0.9" />
<circle cx="110.30" cy="272.28" r="1.25" fill="#c03a2b"/>
<line x1="138.55" y1="268.31" x2="138.55" y2="278.91" stroke="#c03a2b" stroke-width="0.9" />
<line x1="136.55" y1="268.31" x2="140.55" y2="268.31" stroke="#c03a2b" stroke-width="0.9" />
<line x1="136.55" y1="278.91" x2="140.55" y2="278.91" stroke="#c03a2b" stroke-width="0.9" />
<circle cx="138.55" cy="273.61" r="1.25" fill="#c03a2b"/>
<line x1="195.05" y1="267.25" x2="195.05" y2="278.90" stroke="#c03a2b" stroke-width="0.9" />
<line x1="193.05" y1="267.25" x2="197.05" y2="267.25" stroke="#c03a2b" stroke-width="0.9" />
<line x1="193.05" y1="278.90" x2="197.05" y2="278.90" stroke="#c03a2b" stroke-width="0.9" />
<circle cx="195.05" cy="273.07" r="1.25" fill="#c03a2b"/>
<polyline points="53.80,218.75 82.05,261.15 110.30,274.93 138.55,266.98 195.05,256.12" fill="none" stroke="#9ccbea" stroke-width="1.1"/>
<line x1="82.05" y1="255.85" x2="82.05" y2="266.45" stroke="#9ccbea" stroke-width="0.9" />
<line x1="80.05" y1="255.85" x2="84.05" y2="255.85" stroke="#9ccbea" stroke-width="0.9" />
<line x1="80.05" y1="266.45" x2="84.05" y2="266.45" stroke="#9ccbea" stroke-width="0.9" />
<path d="M82.05 259.35L83.85 261.15L82.05 262.95L80.25 261.15Z" fill="#9ccbea"/>
<line x1="110.30" y1="269.63" x2="110.30" y2="280.23" stroke="#9ccbea" stroke-width="0.9" />
<line x1="108.30" y1="269.63" x2="112.30" y2="269.63" stroke="#9ccbea" stroke-width="0.9" />
<line x1="108.30" y1="280.23" x2="112.30" y2="280.23" stroke="#9ccbea" stroke-width="0.9" />
<path d="M110.30 273.13L112.10 274.93L110.30 276.73L108.50 274.93Z" fill="#9ccbea"/>
<line x1="138.55" y1="261.68" x2="138.55" y2="272.28" stroke="#9ccbea" stroke-width="0.9" />
<line x1="136.55" y1="261.68" x2="140.55" y2="261.68" stroke="#9ccbea" stroke-width="0.9" />
<line x1="136.55" y1="272.28" x2="140.55" y2="272.28" stroke="#9ccbea" stroke-width="0.9" />
<path d="M138.55 265.18L140.35 266.98L138.55 268.78L136.75 266.98Z" fill="#9ccbea"/>
<line x1="195.05" y1="248.17" x2="195.05" y2="264.06" stroke="#9ccbea" stroke-width="0.9" />
<line x1="193.05" y1="248.17" x2="197.05" y2="248.17" stroke="#9ccbea" stroke-width="0.9" />
<line x1="193.05" y1="264.06" x2="197.05" y2="264.06" stroke="#9ccbea" stroke-width="0.9" />
<path d="M195.05 254.31L196.85 256.12L195.05 257.92L193.25 256.12Z" fill="#9ccbea"/>
<polyline points="53.80,218.75 82.05,267.51 110.30,282.35 138.55,275.46 195.05,282.35" fill="none" stroke="#13b1e2" stroke-width="1.1"/>
<line x1="82.05" y1="262.21" x2="82.05" y2="272.81" stroke="#13b1e2" stroke-width="0.9" />
<line x1="80.05" y1="262.21" x2="84.05" y2="262.21" stroke="#13b1e2" stroke-width="0.9" />
<line x1="80.05" y1="272.81" x2="84.05" y2="272.81" stroke="#13b1e2" stroke-width="0.9" />
<rect x="80.30" y="265.76" width="3.50" height="3.50" fill="#13b1e2"/>
<line x1="110.30" y1="277.05" x2="110.30" y2="287.65" stroke="#13b1e2" stroke-width="0.9" />
<line x1="108.30" y1="277.05" x2="112.30" y2="277.05" stroke="#13b1e2" stroke-width="0.9" />
<line x1="108.30" y1="287.65" x2="112.30" y2="287.65" stroke="#13b1e2" stroke-width="0.9" />
<rect x="108.55" y="280.60" width="3.50" height="3.50" fill="#13b1e2"/>
<line x1="138.55" y1="270.16" x2="138.55" y2="280.76" stroke="#13b1e2" stroke-width="0.9" />
<line x1="136.55" y1="270.16" x2="140.55" y2="270.16" stroke="#13b1e2" stroke-width="0.9" />
<line x1="136.55" y1="280.76" x2="140.55" y2="280.76" stroke="#13b1e2" stroke-width="0.9" />
<rect x="136.80" y="273.71" width="3.50" height="3.50" fill="#13b1e2"/>
<line x1="195.05" y1="275.73" x2="195.05" y2="288.98" stroke="#13b1e2" stroke-width="0.9" />
<line x1="193.05" y1="275.73" x2="197.05" y2="275.73" stroke="#13b1e2" stroke-width="0.9" />
<line x1="193.05" y1="288.98" x2="197.05" y2="288.98" stroke="#13b1e2" stroke-width="0.9" />
<rect x="193.30" y="280.60" width="3.50" height="3.50" fill="#13b1e2"/>
<text x="203.00" y="221.44" font-size="8.4" text-anchor="start" fill="#231f20" stroke="#231f20" stroke-width="0.12" letter-spacing="0.05" >0.05 mmol/L</text>
<text x="199.40" y="259.14" font-size="8.4" text-anchor="start" fill="#231f20" stroke="#231f20" stroke-width="0.12" letter-spacing="0.05" ><tspan font-size="6.2" dy="-0.6">−</tspan><tspan dy="0.6"></tspan>1.40 mmol/L</text>
<text x="199.40" y="275.94" font-size="8.4" text-anchor="start" fill="#231f20" stroke="#231f20" stroke-width="0.12" letter-spacing="0.05" ><tspan font-size="6.2" dy="-0.6">−</tspan><tspan dy="0.6"></tspan>2.06 mmol/L</text>
<text x="199.40" y="285.44" font-size="8.4" text-anchor="start" fill="#231f20" stroke="#231f20" stroke-width="0.12" letter-spacing="0.05" ><tspan font-size="6.2" dy="-0.6">−</tspan><tspan dy="0.6"></tspan>2.40 mmol/L</text>
<text x="199.40" y="291.44" font-size="8.4" text-anchor="start" fill="#231f20" stroke="#231f20" stroke-width="0.12" letter-spacing="0.05" ><tspan font-size="6.2" dy="-0.6">−</tspan><tspan dy="0.6"></tspan>2.58 mmol/L</text>
<text x="152.00" y="326.60" font-size="8.0" text-anchor="middle" fill="#231f20" stroke="#231f20" stroke-width="0.12" letter-spacing="0.05" >Time  (weeks)</text>
<text x="0" y="0" font-size="8.1" text-anchor="middle" fill="#231f20" stroke="#231f20" stroke-width="0.12" letter-spacing="0.05" transform="translate(13.93,246.70) rotate(-90)">Change from baseline in</text>
<text x="0" y="0" font-size="8.1" text-anchor="middle" fill="#231f20" stroke="#231f20" stroke-width="0.12" letter-spacing="0.05" transform="translate(25.23,246.00) rotate(-90)">fasting plasma glucose (mmol/L)</text>
<text x="0" y="0" font-size="14.2" font-weight="bold" fill="#111" stroke="#111" stroke-width="0.25" transform="translate(262,171)">D</text>
<line x1="320.80" y1="191.50" x2="320.80" y2="299.00" stroke="#2b2b2b" stroke-width="1.4" />
<line x1="320.80" y1="298.50" x2="520.00" y2="298.50" stroke="#2b2b2b" stroke-width="1.2" />
<line x1="315.30" y1="201.50" x2="320.80" y2="201.50" stroke="#2b2b2b" stroke-width="1.1" />
<text x="313.80" y="204.44" font-size="8.4" text-anchor="end" fill="#231f20" stroke="#231f20" stroke-width="0.12" letter-spacing="0.05" >15</text>
<line x1="315.30" y1="250.00" x2="320.80" y2="250.00" stroke="#2b2b2b" stroke-width="1.1" />
<text x="313.80" y="252.94" font-size="8.4" text-anchor="end" fill="#231f20" stroke="#231f20" stroke-width="0.12" letter-spacing="0.05" >10</text>
<line x1="315.30" y1="298.50" x2="320.80" y2="298.50" stroke="#2b2b2b" stroke-width="1.1" />
<text x="313.80" y="301.44" font-size="8.4" text-anchor="end" fill="#231f20" stroke="#231f20" stroke-width="0.12" letter-spacing="0.05" >5</text>
<line x1="339.00" y1="298.50" x2="339.00" y2="304.00" stroke="#2b2b2b" stroke-width="1.1" />
<line x1="366.07" y1="298.50" x2="366.07" y2="304.00" stroke="#2b2b2b" stroke-width="1.1" />
<line x1="393.14" y1="298.50" x2="393.14" y2="304.00" stroke="#2b2b2b" stroke-width="1.1" />
<line x1="420.21" y1="298.50" x2="420.21" y2="304.00" stroke="#2b2b2b" stroke-width="1.1" />
<line x1="447.28" y1="298.50" x2="447.28" y2="304.00" stroke="#2b2b2b" stroke-width="1.1" />
<line x1="474.35" y1="298.50" x2="474.35" y2="304.00" stroke="#2b2b2b" stroke-width="1.1" />
<line x1="501.42" y1="298.50" x2="501.42" y2="304.00" stroke="#2b2b2b" stroke-width="1.1" />
<text x="0" y="0" font-size="7.9" text-anchor="end" fill="#231f20" stroke="#231f20" stroke-width="0.12" letter-spacing="0.05" transform="translate(342.00,313.00) rotate(-45)">Before breakfast</text>
<text x="0" y="0" font-size="7.9" text-anchor="end" fill="#231f20" stroke="#231f20" stroke-width="0.12" letter-spacing="0.05" transform="translate(369.07,313.00) rotate(-45)">After breakfast</text>
<text x="0" y="0" font-size="7.9" text-anchor="end" fill="#231f20" stroke="#231f20" stroke-width="0.12" letter-spacing="0.05" transform="translate(396.14,313.00) rotate(-45)">Before lunch</text>
<text x="0" y="0" font-size="7.9" text-anchor="end" fill="#231f20" stroke="#231f20" stroke-width="0.12" letter-spacing="0.05" transform="translate(423.21,313.00) rotate(-45)">After lunch</text>
<text x="0" y="0" font-size="7.9" text-anchor="end" fill="#231f20" stroke="#231f20" stroke-width="0.12" letter-spacing="0.05" transform="translate(450.28,313.00) rotate(-45)">Before dinner</text>
<text x="0" y="0" font-size="7.9" text-anchor="end" fill="#231f20" stroke="#231f20" stroke-width="0.12" letter-spacing="0.05" transform="translate(477.35,313.00) rotate(-45)">After dinner</text>
<text x="0" y="0" font-size="7.9" text-anchor="end" fill="#231f20" stroke="#231f20" stroke-width="0.12" letter-spacing="0.05" transform="translate(504.42,313.00) rotate(-45)">Bedtime</text>
<polyline points="339.00,261.64 366.07,225.75 393.14,250.97 420.21,225.75 447.28,244.18 474.35,223.81 501.42,231.57" fill="none" stroke="#8e8e8e" stroke-width="1.1" stroke-dasharray="2.5,1.8"/>
<line x1="339.00" y1="258.34" x2="339.00" y2="264.94" stroke="#7c7c7c" stroke-width="0.8" />
<line x1="337.20" y1="258.34" x2="340.80" y2="258.34" stroke="#7c7c7c" stroke-width="0.8" />
<line x1="337.20" y1="264.94" x2="340.80" y2="264.94" stroke="#7c7c7c" stroke-width="0.8" />
<circle cx="339.00" cy="261.64" r="1.06" fill="#7c7c7c"/>
<line x1="366.07" y1="221.25" x2="366.07" y2="230.25" stroke="#7c7c7c" stroke-width="0.8" />
<line x1="364.27" y1="221.25" x2="367.87" y2="221.25" stroke="#7c7c7c" stroke-width="0.8" />
<line x1="364.27" y1="230.25" x2="367.87" y2="230.25" stroke="#7c7c7c" stroke-width="0.8" />
<circle cx="366.07" cy="225.75" r="1.06" fill="#7c7c7c"/>
<line x1="393.14" y1="247.67" x2="393.14" y2="254.27" stroke="#7c7c7c" stroke-width="0.8" />
<line x1="391.34" y1="247.67" x2="394.94" y2="247.67" stroke="#7c7c7c" stroke-width="0.8" />
<line x1="391.34" y1="254.27" x2="394.94" y2="254.27" stroke="#7c7c7c" stroke-width="0.8" />
<circle cx="393.14" cy="250.97" r="1.06" fill="#7c7c7c"/>
<line x1="420.21" y1="222.45" x2="420.21" y2="229.05" stroke="#7c7c7c" stroke-width="0.8" />
<line x1="418.41" y1="222.45" x2="422.01" y2="222.45" stroke="#7c7c7c" stroke-width="0.8" />
<line x1="418.41" y1="229.05" x2="422.01" y2="229.05" stroke="#7c7c7c" stroke-width="0.8" />
<circle cx="420.21" cy="225.75" r="1.06" fill="#7c7c7c"/>
<line x1="447.28" y1="240.88" x2="447.28" y2="247.48" stroke="#7c7c7c" stroke-width="0.8" />
<line x1="445.48" y1="240.88" x2="449.08" y2="240.88" stroke="#7c7c7c" stroke-width="0.8" />
<line x1="445.48" y1="247.48" x2="449.08" y2="247.48" stroke="#7c7c7c" stroke-width="0.8" />
<circle cx="447.28" cy="244.18" r="1.06" fill="#7c7c7c"/>
<line x1="474.35" y1="220.51" x2="474.35" y2="227.11" stroke="#7c7c7c" stroke-width="0.8" />
<line x1="472.55" y1="220.51" x2="476.15" y2="220.51" stroke="#7c7c7c" stroke-width="0.8" />
<line x1="472.55" y1="227.11" x2="476.15" y2="227.11" stroke="#7c7c7c" stroke-width="0.8" />
<circle cx="474.35" cy="223.81" r="1.06" fill="#7c7c7c"/>
<line x1="501.42" y1="228.27" x2="501.42" y2="234.87" stroke="#7c7c7c" stroke-width="0.8" />
<line x1="499.62" y1="228.27" x2="503.22" y2="228.27" stroke="#7c7c7c" stroke-width="0.8" />
<line x1="499.62" y1="234.87" x2="503.22" y2="234.87" stroke="#7c7c7c" stroke-width="0.8" />
<circle cx="501.42" cy="231.57" r="1.06" fill="#7c7c7c"/>
<polyline points="339.00,261.64 366.07,231.57 393.14,253.88 420.21,230.60 447.28,256.79 474.35,237.39 501.42,243.21" fill="none" stroke="#8e8e8e" stroke-width="1.1" />
<line x1="339.00" y1="258.34" x2="339.00" y2="264.94" stroke="#7c7c7c" stroke-width="0.8" />
<line x1="337.20" y1="258.34" x2="340.80" y2="258.34" stroke="#7c7c7c" stroke-width="0.8" />
<line x1="337.20" y1="264.94" x2="340.80" y2="264.94" stroke="#7c7c7c" stroke-width="0.8" />
<circle cx="339.00" cy="261.64" r="1.06" fill="#7c7c7c"/>
<line x1="366.07" y1="227.07" x2="366.07" y2="236.07" stroke="#7c7c7c" stroke-width="0.8" />
<line x1="364.27" y1="227.07" x2="367.87" y2="227.07" stroke="#7c7c7c" stroke-width="0.8" />
<line x1="364.27" y1="236.07" x2="367.87" y2="236.07" stroke="#7c7c7c" stroke-width="0.8" />
<circle cx="366.07" cy="231.57" r="1.06" fill="#7c7c7c"/>
<line x1="393.14" y1="250.58" x2="393.14" y2="257.18" stroke="#7c7c7c" stroke-width="0.8" />
<line x1="391.34" y1="250.58" x2="394.94" y2="250.58" stroke="#7c7c7c" stroke-width="0.8" />
<line x1="391.34" y1="257.18" x2="394.94" y2="257.18" stroke="#7c7c7c" stroke-width="0.8" />
<circle cx="393.14" cy="253.88" r="1.06" fill="#7c7c7c"/>
<line x1="420.21" y1="227.30" x2="420.21" y2="233.90" stroke="#7c7c7c" stroke-width="0.8" />
<line x1="418.41" y1="227.30" x2="422.01" y2="227.30" stroke="#7c7c7c" stroke-width="0.8" />
<line x1="418.41" y1="233.90" x2="422.01" y2="233.90" stroke="#7c7c7c" stroke-width="0.8" />
<circle cx="420.21" cy="230.60" r="1.06" fill="#7c7c7c"/>
<line x1="447.28" y1="253.49" x2="447.28" y2="260.09" stroke="#7c7c7c" stroke-width="0.8" />
<line x1="445.48" y1="253.49" x2="449.08" y2="253.49" stroke="#7c7c7c" stroke-width="0.8" />
<line x1="445.48" y1="260.09" x2="449.08" y2="260.09" stroke="#7c7c7c" stroke-width="0.8" />
<circle cx="447.28" cy="256.79" r="1.06" fill="#7c7c7c"/>
<line x1="474.35" y1="234.09" x2="474.35" y2="240.69" stroke="#7c7c7c" stroke-width="0.8" />
<line x1="472.55" y1="234.09" x2="476.15" y2="234.09" stroke="#7c7c7c" stroke-width="0.8" />
<line x1="472.55" y1="240.69" x2="476.15" y2="240.69" stroke="#7c7c7c" stroke-width="0.8" />
<circle cx="474.35" cy="237.39" r="1.06" fill="#7c7c7c"/>
<line x1="501.42" y1="239.91" x2="501.42" y2="246.51" stroke="#7c7c7c" stroke-width="0.8" />
<line x1="499.62" y1="239.91" x2="503.22" y2="239.91" stroke="#7c7c7c" stroke-width="0.8" />
<line x1="499.62" y1="246.51" x2="503.22" y2="246.51" stroke="#7c7c7c" stroke-width="0.8" />
<circle cx="501.42" cy="243.21" r="1.06" fill="#7c7c7c"/>
<polyline points="339.00,256.79 366.07,227.21 393.14,253.88 420.21,236.42 447.28,253.88 474.35,233.51 501.42,237.39" fill="none" stroke="#c03a2b" stroke-width="1.1" stroke-dasharray="2.5,1.8"/>
<line x1="339.00" y1="253.49" x2="339.00" y2="260.09" stroke="#c03a2b" stroke-width="0.8" />
<line x1="337.20" y1="253.49" x2="340.80" y2="253.49" stroke="#c03a2b" stroke-width="0.8" />
<line x1="337.20" y1="260.09" x2="340.80" y2="260.09" stroke="#c03a2b" stroke-width="0.8" />
<circle cx="339.00" cy="256.79" r="1.06" fill="#c03a2b"/>
<line x1="366.07" y1="222.71" x2="366.07" y2="231.71" stroke="#c03a2b" stroke-width="0.8" />
<line x1="364.27" y1="222.71" x2="367.87" y2="222.71" stroke="#c03a2b" stroke-width="0.8" />
<line x1="364.27" y1="231.71" x2="367.87" y2="231.71" stroke="#c03a2b" stroke-width="0.8" />
<circle cx="366.07" cy="227.21" r="1.06" fill="#c03a2b"/>
<line x1="393.14" y1="250.58" x2="393.14" y2="257.18" stroke="#c03a2b" stroke-width="0.8" />
<line x1="391.34" y1="250.58" x2="394.94" y2="250.58" stroke="#c03a2b" stroke-width="0.8" />
<line x1="391.34" y1="257.18" x2="394.94" y2="257.18" stroke="#c03a2b" stroke-width="0.8" />
<circle cx="393.14" cy="253.88" r="1.06" fill="#c03a2b"/>
<line x1="420.21" y1="233.12" x2="420.21" y2="239.72" stroke="#c03a2b" stroke-width="0.8" />
<line x1="418.41" y1="233.12" x2="422.01" y2="233.12" stroke="#c03a2b" stroke-width="0.8" />
<line x1="418.41" y1="239.72" x2="422.01" y2="239.72" stroke="#c03a2b" stroke-width="0.8" />
<circle cx="420.21" cy="236.42" r="1.06" fill="#c03a2b"/>
<line x1="447.28" y1="250.58" x2="447.28" y2="257.18" stroke="#c03a2b" stroke-width="0.8" />
<line x1="445.48" y1="250.58" x2="449.08" y2="250.58" stroke="#c03a2b" stroke-width="0.8" />
<line x1="445.48" y1="257.18" x2="449.08" y2="257.18" stroke="#c03a2b" stroke-width="0.8" />
<circle cx="447.28" cy="253.88" r="1.06" fill="#c03a2b"/>
<line x1="474.35" y1="230.21" x2="474.35" y2="236.81" stroke="#c03a2b" stroke-width="0.8" />
<line x1="472.55" y1="230.21" x2="476.15" y2="230.21" stroke="#c03a2b" stroke-width="0.8" />
<line x1="472.55" y1="236.81" x2="476.15" y2="236.81" stroke="#c03a2b" stroke-width="0.8" />
<circle cx="474.35" cy="233.51" r="1.06" fill="#c03a2b"/>
<line x1="501.42" y1="234.09" x2="501.42" y2="240.69" stroke="#c03a2b" stroke-width="0.8" />
<line x1="499.62" y1="234.09" x2="503.22" y2="234.09" stroke="#c03a2b" stroke-width="0.8" />
<line x1="499.62" y1="240.69" x2="503.22" y2="240.69" stroke="#c03a2b" stroke-width="0.8" />
<circle cx="501.42" cy="237.39" r="1.06" fill="#c03a2b"/>
<polyline points="339.00,277.16 366.07,258.73 393.14,276.19 420.21,256.79 447.28,274.25 474.35,259.70 501.42,263.58" fill="none" stroke="#c03a2b" stroke-width="1.1" />
<line x1="339.00" y1="273.86" x2="339.00" y2="280.46" stroke="#c03a2b" stroke-width="0.8" />
<line x1="337.20" y1="273.86" x2="340.80" y2="273.86" stroke="#c03a2b" stroke-width="0.8" />
<line x1="337.20" y1="280.46" x2="340.80" y2="280.46" stroke="#c03a2b" stroke-width="0.8" />
<circle cx="339.00" cy="277.16" r="1.06" fill="#c03a2b"/>
<line x1="366.07" y1="254.23" x2="366.07" y2="263.23" stroke="#c03a2b" stroke-width="0.8" />
<line x1="364.27" y1="254.23" x2="367.87" y2="254.23" stroke="#c03a2b" stroke-width="0.8" />
<line x1="364.27" y1="263.23" x2="367.87" y2="263.23" stroke="#c03a2b" stroke-width="0.8" />
<circle cx="366.07" cy="258.73" r="1.06" fill="#c03a2b"/>
<line x1="393.14" y1="272.89" x2="393.14" y2="279.49" stroke="#c03a2b" stroke-width="0.8" />
<line x1="391.34" y1="272.89" x2="394.94" y2="272.89" stroke="#c03a2b" stroke-width="0.8" />
<line x1="391.34" y1="279.49" x2="394.94" y2="279.49" stroke="#c03a2b" stroke-width="0.8" />
<circle cx="393.14" cy="276.19" r="1.06" fill="#c03a2b"/>
<line x1="420.21" y1="253.49" x2="420.21" y2="260.09" stroke="#c03a2b" stroke-width="0.8" />
<line x1="418.41" y1="253.49" x2="422.01" y2="253.49" stroke="#c03a2b" stroke-width="0.8" />
<line x1="418.41" y1="260.09" x2="422.01" y2="260.09" stroke="#c03a2b" stroke-width="0.8" />
<circle cx="420.21" cy="256.79" r="1.06" fill="#c03a2b"/>
<line x1="447.28" y1="270.95" x2="447.28" y2="277.55" stroke="#c03a2b" stroke-width="0.8" />
<line x1="445.48" y1="270.95" x2="449.08" y2="270.95" stroke="#c03a2b" stroke-width="0.8" />
<line x1="445.48" y1="277.55" x2="449.08" y2="277.55" stroke="#c03a2b" stroke-width="0.8" />
<circle cx="447.28" cy="274.25" r="1.06" fill="#c03a2b"/>
<line x1="474.35" y1="256.40" x2="474.35" y2="263.00" stroke="#c03a2b" stroke-width="0.8" />
<line x1="472.55" y1="256.40" x2="476.15" y2="256.40" stroke="#c03a2b" stroke-width="0.8" />
<line x1="472.55" y1="263.00" x2="476.15" y2="263.00" stroke="#c03a2b" stroke-width="0.8" />
<circle cx="474.35" cy="259.70" r="1.06" fill="#c03a2b"/>
<line x1="501.42" y1="260.28" x2="501.42" y2="266.88" stroke="#c03a2b" stroke-width="0.8" />
<line x1="499.62" y1="260.28" x2="503.22" y2="260.28" stroke="#c03a2b" stroke-width="0.8" />
<line x1="499.62" y1="266.88" x2="503.22" y2="266.88" stroke="#c03a2b" stroke-width="0.8" />
<circle cx="501.42" cy="263.58" r="1.06" fill="#c03a2b"/>
<polyline points="339.00,259.70 366.07,218.96 393.14,250.00 420.21,222.84 447.28,250.97 474.35,229.63 501.42,238.36" fill="none" stroke="#9ccbea" stroke-width="1.1" stroke-dasharray="2.5,1.8"/>
<line x1="339.00" y1="256.40" x2="339.00" y2="263.00" stroke="#9ccbea" stroke-width="0.8" />
<line x1="337.20" y1="256.40" x2="340.80" y2="256.40" stroke="#9ccbea" stroke-width="0.8" />
<line x1="337.20" y1="263.00" x2="340.80" y2="263.00" stroke="#9ccbea" stroke-width="0.8" />
<path d="M339.00 258.17L340.53 259.70L339.00 261.23L337.47 259.70Z" fill="#9ccbea"/>
<line x1="366.07" y1="214.46" x2="366.07" y2="223.46" stroke="#9ccbea" stroke-width="0.8" />
<line x1="364.27" y1="214.46" x2="367.87" y2="214.46" stroke="#9ccbea" stroke-width="0.8" />
<line x1="364.27" y1="223.46" x2="367.87" y2="223.46" stroke="#9ccbea" stroke-width="0.8" />
<path d="M366.07 217.43L367.60 218.96L366.07 220.49L364.54 218.96Z" fill="#9ccbea"/>
<line x1="393.14" y1="246.70" x2="393.14" y2="253.30" stroke="#9ccbea" stroke-width="0.8" />
<line x1="391.34" y1="246.70" x2="394.94" y2="246.70" stroke="#9ccbea" stroke-width="0.8" />
<line x1="391.34" y1="253.30" x2="394.94" y2="253.30" stroke="#9ccbea" stroke-width="0.8" />
<path d="M393.14 248.47L394.67 250.00L393.14 251.53L391.61 250.00Z" fill="#9ccbea"/>
<line x1="420.21" y1="219.54" x2="420.21" y2="226.14" stroke="#9ccbea" stroke-width="0.8" />
<line x1="418.41" y1="219.54" x2="422.01" y2="219.54" stroke="#9ccbea" stroke-width="0.8" />
<line x1="418.41" y1="226.14" x2="422.01" y2="226.14" stroke="#9ccbea" stroke-width="0.8" />
<path d="M420.21 221.31L421.74 222.84L420.21 224.37L418.68 222.84Z" fill="#9ccbea"/>
<line x1="447.28" y1="247.67" x2="447.28" y2="254.27" stroke="#9ccbea" stroke-width="0.8" />
<line x1="445.48" y1="247.67" x2="449.08" y2="247.67" stroke="#9ccbea" stroke-width="0.8" />
<line x1="445.48" y1="254.27" x2="449.08" y2="254.27" stroke="#9ccbea" stroke-width="0.8" />
<path d="M447.28 249.44L448.81 250.97L447.28 252.50L445.75 250.97Z" fill="#9ccbea"/>
<line x1="474.35" y1="226.33" x2="474.35" y2="232.93" stroke="#9ccbea" stroke-width="0.8" />
<line x1="472.55" y1="226.33" x2="476.15" y2="226.33" stroke="#9ccbea" stroke-width="0.8" />
<line x1="472.55" y1="232.93" x2="476.15" y2="232.93" stroke="#9ccbea" stroke-width="0.8" />
<path d="M474.35 228.10L475.88 229.63L474.35 231.16L472.82 229.63Z" fill="#9ccbea"/>
<line x1="501.42" y1="235.06" x2="501.42" y2="241.66" stroke="#9ccbea" stroke-width="0.8" />
<line x1="499.62" y1="235.06" x2="503.22" y2="235.06" stroke="#9ccbea" stroke-width="0.8" />
<line x1="499.62" y1="241.66" x2="503.22" y2="241.66" stroke="#9ccbea" stroke-width="0.8" />
<path d="M501.42 236.83L502.95 238.36L501.42 239.89L499.89 238.36Z" fill="#9ccbea"/>
<polyline points="339.00,272.31 366.07,250.00 393.14,274.25 420.21,254.85 447.28,268.92 474.35,256.79 501.42,258.73" fill="none" stroke="#9ccbea" stroke-width="1.1" />
<line x1="339.00" y1="269.01" x2="339.00" y2="275.61" stroke="#9ccbea" stroke-width="0.8" />
<line x1="337.20" y1="269.01" x2="340.80" y2="269.01" stroke="#9ccbea" stroke-width="0.8" />
<line x1="337.20" y1="275.61" x2="340.80" y2="275.61" stroke="#9ccbea" stroke-width="0.8" />
<path d="M339.00 270.78L340.53 272.31L339.00 273.84L337.47 272.31Z" fill="#9ccbea"/>
<line x1="366.07" y1="245.50" x2="366.07" y2="254.50" stroke="#9ccbea" stroke-width="0.8" />
<line x1="364.27" y1="245.50" x2="367.87" y2="245.50" stroke="#9ccbea" stroke-width="0.8" />
<line x1="364.27" y1="254.50" x2="367.87" y2="254.50" stroke="#9ccbea" stroke-width="0.8" />
<path d="M366.07 248.47L367.60 250.00L366.07 251.53L364.54 250.00Z" fill="#9ccbea"/>
<line x1="393.14" y1="270.95" x2="393.14" y2="277.55" stroke="#9ccbea" stroke-width="0.8" />
<line x1="391.34" y1="270.95" x2="394.94" y2="270.95" stroke="#9ccbea" stroke-width="0.8" />
<line x1="391.34" y1="277.55" x2="394.94" y2="277.55" stroke="#9ccbea" stroke-width="0.8" />
<path d="M393.14 272.72L394.67 274.25L393.14 275.78L391.61 274.25Z" fill="#9ccbea"/>
<line x1="420.21" y1="251.55" x2="420.21" y2="258.15" stroke="#9ccbea" stroke-width="0.8" />
<line x1="418.41" y1="251.55" x2="422.01" y2="251.55" stroke="#9ccbea" stroke-width="0.8" />
<line x1="418.41" y1="258.15" x2="422.01" y2="258.15" stroke="#9ccbea" stroke-width="0.8" />
<path d="M420.21 253.32L421.74 254.85L420.21 256.38L418.68 254.85Z" fill="#9ccbea"/>
<line x1="447.28" y1="265.62" x2="447.28" y2="272.22" stroke="#9ccbea" stroke-width="0.8" />
<line x1="445.48" y1="265.62" x2="449.08" y2="265.62" stroke="#9ccbea" stroke-width="0.8" />
<line x1="445.48" y1="272.22" x2="449.08" y2="272.22" stroke="#9ccbea" stroke-width="0.8" />
<path d="M447.28 267.39L448.81 268.92L447.28 270.44L445.75 268.92Z" fill="#9ccbea"/>
<line x1="474.35" y1="253.49" x2="474.35" y2="260.09" stroke="#9ccbea" stroke-width="0.8" />
<line x1="472.55" y1="253.49" x2="476.15" y2="253.49" stroke="#9ccbea" stroke-width="0.8" />
<line x1="472.55" y1="260.09" x2="476.15" y2="260.09" stroke="#9ccbea" stroke-width="0.8" />
<path d="M474.35 255.26L475.88 256.79L474.35 258.32L472.82 256.79Z" fill="#9ccbea"/>
<line x1="501.42" y1="255.43" x2="501.42" y2="262.03" stroke="#9ccbea" stroke-width="0.8" />
<line x1="499.62" y1="255.43" x2="503.22" y2="255.43" stroke="#9ccbea" stroke-width="0.8" />
<line x1="499.62" y1="262.03" x2="503.22" y2="262.03" stroke="#9ccbea" stroke-width="0.8" />
<path d="M501.42 257.20L502.95 258.73L501.42 260.26L499.89 258.73Z" fill="#9ccbea"/>
<polyline points="339.00,250.97 366.07,217.50 393.14,248.06 420.21,220.90 447.28,250.97 474.35,227.69 501.42,234.48" fill="none" stroke="#0a5596" stroke-width="1.1" stroke-dasharray="2.5,1.8"/>
<line x1="339.00" y1="247.67" x2="339.00" y2="254.27" stroke="#0a5596" stroke-width="0.8" />
<line x1="337.20" y1="247.67" x2="340.80" y2="247.67" stroke="#0a5596" stroke-width="0.8" />
<line x1="337.20" y1="254.27" x2="340.80" y2="254.27" stroke="#0a5596" stroke-width="0.8" />
<circle cx="339.00" cy="250.97" r="1.06" fill="#0a5596"/>
<line x1="366.07" y1="213.00" x2="366.07" y2="222.00" stroke="#0a5596" stroke-width="0.8" />
<line x1="364.27" y1="213.00" x2="367.87" y2="213.00" stroke="#0a5596" stroke-width="0.8" />
<line x1="364.27" y1="222.00" x2="367.87" y2="222.00" stroke="#0a5596" stroke-width="0.8" />
<circle cx="366.07" cy="217.50" r="1.06" fill="#0a5596"/>
<line x1="393.14" y1="244.76" x2="393.14" y2="251.36" stroke="#0a5596" stroke-width="0.8" />
<line x1="391.34" y1="244.76" x2="394.94" y2="244.76" stroke="#0a5596" stroke-width="0.8" />
<line x1="391.34" y1="251.36" x2="394.94" y2="251.36" stroke="#0a5596" stroke-width="0.8" />
<circle cx="393.14" cy="248.06" r="1.06" fill="#0a5596"/>
<line x1="420.21" y1="217.60" x2="420.21" y2="224.20" stroke="#0a5596" stroke-width="0.8" />
<line x1="418.41" y1="217.60" x2="422.01" y2="217.60" stroke="#0a5596" stroke-width="0.8" />
<line x1="418.41" y1="224.20" x2="422.01" y2="224.20" stroke="#0a5596" stroke-width="0.8" />
<circle cx="420.21" cy="220.90" r="1.06" fill="#0a5596"/>
<line x1="447.28" y1="247.67" x2="447.28" y2="254.27" stroke="#0a5596" stroke-width="0.8" />
<line x1="445.48" y1="247.67" x2="449.08" y2="247.67" stroke="#0a5596" stroke-width="0.8" />
<line x1="445.48" y1="254.27" x2="449.08" y2="254.27" stroke="#0a5596" stroke-width="0.8" />
<circle cx="447.28" cy="250.97" r="1.06" fill="#0a5596"/>
<line x1="474.35" y1="224.39" x2="474.35" y2="230.99" stroke="#0a5596" stroke-width="0.8" />
<line x1="472.55" y1="224.39" x2="476.15" y2="224.39" stroke="#0a5596" stroke-width="0.8" />
<line x1="472.55" y1="230.99" x2="476.15" y2="230.99" stroke="#0a5596" stroke-width="0.8" />
<circle cx="474.35" cy="227.69" r="1.06" fill="#0a5596"/>
<line x1="501.42" y1="231.18" x2="501.42" y2="237.78" stroke="#0a5596" stroke-width="0.8" />
<line x1="499.62" y1="231.18" x2="503.22" y2="231.18" stroke="#0a5596" stroke-width="0.8" />
<line x1="499.62" y1="237.78" x2="503.22" y2="237.78" stroke="#0a5596" stroke-width="0.8" />
<circle cx="501.42" cy="234.48" r="1.06" fill="#0a5596"/>
<polyline points="339.00,283.95 366.07,260.67 393.14,278.62 420.21,263.58 447.28,277.16 474.35,259.70 501.42,270.37" fill="none" stroke="#0a5596" stroke-width="1.1" />
<line x1="339.00" y1="280.65" x2="339.00" y2="287.25" stroke="#0a5596" stroke-width="0.8" />
<line x1="337.20" y1="280.65" x2="340.80" y2="280.65" stroke="#0a5596" stroke-width="0.8" />
<line x1="337.20" y1="287.25" x2="340.80" y2="287.25" stroke="#0a5596" stroke-width="0.8" />
<circle cx="339.00" cy="283.95" r="1.06" fill="#0a5596"/>
<line x1="366.07" y1="256.17" x2="366.07" y2="265.17" stroke="#0a5596" stroke-width="0.8" />
<line x1="364.27" y1="256.17" x2="367.87" y2="256.17" stroke="#0a5596" stroke-width="0.8" />
<line x1="364.27" y1="265.17" x2="367.87" y2="265.17" stroke="#0a5596" stroke-width="0.8" />
<circle cx="366.07" cy="260.67" r="1.06" fill="#0a5596"/>
<line x1="393.14" y1="275.31" x2="393.14" y2="281.92" stroke="#0a5596" stroke-width="0.8" />
<line x1="391.34" y1="275.31" x2="394.94" y2="275.31" stroke="#0a5596" stroke-width="0.8" />
<line x1="391.34" y1="281.92" x2="394.94" y2="281.92" stroke="#0a5596" stroke-width="0.8" />
<circle cx="393.14" cy="278.62" r="1.06" fill="#0a5596"/>
<line x1="420.21" y1="260.28" x2="420.21" y2="266.88" stroke="#0a5596" stroke-width="0.8" />
<line x1="418.41" y1="260.28" x2="422.01" y2="260.28" stroke="#0a5596" stroke-width="0.8" />
<line x1="418.41" y1="266.88" x2="422.01" y2="266.88" stroke="#0a5596" stroke-width="0.8" />
<circle cx="420.21" cy="263.58" r="1.06" fill="#0a5596"/>
<line x1="447.28" y1="273.86" x2="447.28" y2="280.46" stroke="#0a5596" stroke-width="0.8" />
<line x1="445.48" y1="273.86" x2="449.08" y2="273.86" stroke="#0a5596" stroke-width="0.8" />
<line x1="445.48" y1="280.46" x2="449.08" y2="280.46" stroke="#0a5596" stroke-width="0.8" />
<circle cx="447.28" cy="277.16" r="1.06" fill="#0a5596"/>
<line x1="474.35" y1="256.40" x2="474.35" y2="263.00" stroke="#0a5596" stroke-width="0.8" />
<line x1="472.55" y1="256.40" x2="476.15" y2="256.40" stroke="#0a5596" stroke-width="0.8" />
<line x1="472.55" y1="263.00" x2="476.15" y2="263.00" stroke="#0a5596" stroke-width="0.8" />
<circle cx="474.35" cy="259.70" r="1.06" fill="#0a5596"/>
<line x1="501.42" y1="267.07" x2="501.42" y2="273.67" stroke="#0a5596" stroke-width="0.8" />
<line x1="499.62" y1="267.07" x2="503.22" y2="267.07" stroke="#0a5596" stroke-width="0.8" />
<line x1="499.62" y1="273.67" x2="503.22" y2="273.67" stroke="#0a5596" stroke-width="0.8" />
<circle cx="501.42" cy="270.37" r="1.06" fill="#0a5596"/>
<polyline points="339.00,250.97 366.07,210.23 393.14,245.15 420.21,218.96 447.28,248.06 474.35,230.60 501.42,241.27" fill="none" stroke="#13b1e2" stroke-width="1.1" stroke-dasharray="2.5,1.8"/>
<line x1="339.00" y1="247.67" x2="339.00" y2="254.27" stroke="#13b1e2" stroke-width="0.8" />
<line x1="337.20" y1="247.67" x2="340.80" y2="247.67" stroke="#13b1e2" stroke-width="0.8" />
<line x1="337.20" y1="254.27" x2="340.80" y2="254.27" stroke="#13b1e2" stroke-width="0.8" />
<rect x="337.51" y="249.48" width="2.98" height="2.98" fill="#13b1e2"/>
<line x1="366.07" y1="203.23" x2="366.07" y2="217.23" stroke="#13b1e2" stroke-width="0.8" />
<line x1="364.27" y1="203.23" x2="367.87" y2="203.23" stroke="#13b1e2" stroke-width="0.8" />
<line x1="364.27" y1="217.23" x2="367.87" y2="217.23" stroke="#13b1e2" stroke-width="0.8" />
<rect x="364.58" y="208.74" width="2.98" height="2.98" fill="#13b1e2"/>
<line x1="393.14" y1="241.85" x2="393.14" y2="248.45" stroke="#13b1e2" stroke-width="0.8" />
<line x1="391.34" y1="241.85" x2="394.94" y2="241.85" stroke="#13b1e2" stroke-width="0.8" />
<line x1="391.34" y1="248.45" x2="394.94" y2="248.45" stroke="#13b1e2" stroke-width="0.8" />
<rect x="391.65" y="243.66" width="2.98" height="2.98" fill="#13b1e2"/>
<line x1="420.21" y1="215.66" x2="420.21" y2="222.26" stroke="#13b1e2" stroke-width="0.8" />
<line x1="418.41" y1="215.66" x2="422.01" y2="215.66" stroke="#13b1e2" stroke-width="0.8" />
<line x1="418.41" y1="222.26" x2="422.01" y2="222.26" stroke="#13b1e2" stroke-width="0.8" />
<rect x="418.72" y="217.47" width="2.98" height="2.98" fill="#13b1e2"/>
<line x1="447.28" y1="244.76" x2="447.28" y2="251.36" stroke="#13b1e2" stroke-width="0.8" />
<line x1="445.48" y1="244.76" x2="449.08" y2="244.76" stroke="#13b1e2" stroke-width="0.8" />
<line x1="445.48" y1="251.36" x2="449.08" y2="251.36" stroke="#13b1e2" stroke-width="0.8" />
<rect x="445.79" y="246.57" width="2.98" height="2.98" fill="#13b1e2"/>
<line x1="474.35" y1="227.30" x2="474.35" y2="233.90" stroke="#13b1e2" stroke-width="0.8" />
<line x1="472.55" y1="227.30" x2="476.15" y2="227.30" stroke="#13b1e2" stroke-width="0.8" />
<line x1="472.55" y1="233.90" x2="476.15" y2="233.90" stroke="#13b1e2" stroke-width="0.8" />
<rect x="472.86" y="229.11" width="2.98" height="2.98" fill="#13b1e2"/>
<line x1="501.42" y1="237.97" x2="501.42" y2="244.57" stroke="#13b1e2" stroke-width="0.8" />
<line x1="499.62" y1="237.97" x2="503.22" y2="237.97" stroke="#13b1e2" stroke-width="0.8" />
<line x1="499.62" y1="244.57" x2="503.22" y2="244.57" stroke="#13b1e2" stroke-width="0.8" />
<rect x="499.93" y="239.78" width="2.98" height="2.98" fill="#13b1e2"/>
<polyline points="339.00,281.04 366.07,264.55 393.14,282.01 420.21,266.49 447.28,278.62 474.35,259.70 501.42,265.52" fill="none" stroke="#13b1e2" stroke-width="1.1" />
<line x1="339.00" y1="277.74" x2="339.00" y2="284.34" stroke="#13b1e2" stroke-width="0.8" />
<line x1="337.20" y1="277.74" x2="340.80" y2="277.74" stroke="#13b1e2" stroke-width="0.8" />
<line x1="337.20" y1="284.34" x2="340.80" y2="284.34" stroke="#13b1e2" stroke-width="0.8" />
<rect x="337.51" y="279.55" width="2.98" height="2.98" fill="#13b1e2"/>
<line x1="366.07" y1="260.05" x2="366.07" y2="269.05" stroke="#13b1e2" stroke-width="0.8" />
<line x1="364.27" y1="260.05" x2="367.87" y2="260.05" stroke="#13b1e2" stroke-width="0.8" />
<line x1="364.27" y1="269.05" x2="367.87" y2="269.05" stroke="#13b1e2" stroke-width="0.8" />
<rect x="364.58" y="263.06" width="2.98" height="2.98" fill="#13b1e2"/>
<line x1="393.14" y1="278.71" x2="393.14" y2="285.31" stroke="#13b1e2" stroke-width="0.8" />
<line x1="391.34" y1="278.71" x2="394.94" y2="278.71" stroke="#13b1e2" stroke-width="0.8" />
<line x1="391.34" y1="285.31" x2="394.94" y2="285.31" stroke="#13b1e2" stroke-width="0.8" />
<rect x="391.65" y="280.52" width="2.98" height="2.98" fill="#13b1e2"/>
<line x1="420.21" y1="263.19" x2="420.21" y2="269.79" stroke="#13b1e2" stroke-width="0.8" />
<line x1="418.41" y1="263.19" x2="422.01" y2="263.19" stroke="#13b1e2" stroke-width="0.8" />
<line x1="418.41" y1="269.79" x2="422.01" y2="269.79" stroke="#13b1e2" stroke-width="0.8" />
<rect x="418.72" y="265.00" width="2.98" height="2.98" fill="#13b1e2"/>
<line x1="447.28" y1="275.31" x2="447.28" y2="281.92" stroke="#13b1e2" stroke-width="0.8" />
<line x1="445.48" y1="275.31" x2="449.08" y2="275.31" stroke="#13b1e2" stroke-width="0.8" />
<line x1="445.48" y1="281.92" x2="449.08" y2="281.92" stroke="#13b1e2" stroke-width="0.8" />
<rect x="445.79" y="277.13" width="2.98" height="2.98" fill="#13b1e2"/>
<line x1="474.35" y1="256.40" x2="474.35" y2="263.00" stroke="#13b1e2" stroke-width="0.8" />
<line x1="472.55" y1="256.40" x2="476.15" y2="256.40" stroke="#13b1e2" stroke-width="0.8" />
<line x1="472.55" y1="263.00" x2="476.15" y2="263.00" stroke="#13b1e2" stroke-width="0.8" />
<rect x="472.86" y="258.21" width="2.98" height="2.98" fill="#13b1e2"/>
<line x1="501.42" y1="262.22" x2="501.42" y2="268.82" stroke="#13b1e2" stroke-width="0.8" />
<line x1="499.62" y1="262.22" x2="503.22" y2="262.22" stroke="#13b1e2" stroke-width="0.8" />
<line x1="499.62" y1="268.82" x2="503.22" y2="268.82" stroke="#13b1e2" stroke-width="0.8" />
<rect x="499.93" y="264.03" width="2.98" height="2.98" fill="#13b1e2"/>
<line x1="450.80" y1="190.00" x2="463.20" y2="190.00" stroke="#777" stroke-width="1.1" stroke-dasharray="2,1.5"/>
<line x1="450.80" y1="202.70" x2="463.20" y2="202.70" stroke="#777" stroke-width="1.3" />
<text x="468.00" y="192.95" font-size="7" text-anchor="start" fill="#231f20" stroke="#231f20" stroke-width="0.12" letter-spacing="0.05" >At baseline</text>
<text x="468.00" y="205.75" font-size="7" text-anchor="start" fill="#231f20" stroke="#231f20" stroke-width="0.12" letter-spacing="0.05" >At week 20</text>
<text x="0" y="0" font-size="8.1" text-anchor="middle" fill="#231f20" stroke="#231f20" stroke-width="0.12" letter-spacing="0.05" transform="translate(283.53,247.40) rotate(-90)">Self-measured blood</text>
<text x="0" y="0" font-size="8.1" text-anchor="middle" fill="#231f20" stroke="#231f20" stroke-width="0.12" letter-spacing="0.05" transform="translate(296.13,247.40) rotate(-90)">glucose  (mmol/L)</text>
<text x="0" y="0" font-size="14.2" font-weight="bold" fill="#111" stroke="#111" stroke-width="0.25" transform="translate(1,367)">E</text>
<line x1="53.60" y1="381.00" x2="252.00" y2="381.00" stroke="#333" stroke-width="1.0" stroke-dasharray="2.2,1.8"/>
<line x1="53.60" y1="381.00" x2="53.60" y2="487.62" stroke="#2b2b2b" stroke-width="1.4" />
<line x1="53.60" y1="487.12" x2="252.00" y2="487.12" stroke="#2b2b2b" stroke-width="1.2" />
<line x1="48.10" y1="381.00" x2="53.60" y2="381.00" stroke="#2b2b2b" stroke-width="1.1" />
<text x="46.60" y="384.44" font-size="8.4" text-anchor="end" fill="#231f20" stroke="#231f20" stroke-width="0.12" letter-spacing="0.05" >0</text>
<line x1="48.10" y1="404.66" x2="53.60" y2="404.66" stroke="#2b2b2b" stroke-width="1.1" />
<text x="46.60" y="408.10" font-size="8.4" text-anchor="end" fill="#231f20" stroke="#231f20" stroke-width="0.12" letter-spacing="0.05" ><tspan font-size="6.2" dy="-0.6">−</tspan><tspan dy="0.6"></tspan>2</text>
<line x1="48.10" y1="428.32" x2="53.60" y2="428.32" stroke="#2b2b2b" stroke-width="1.1" />
<text x="46.60" y="431.76" font-size="8.4" text-anchor="end" fill="#231f20" stroke="#231f20" stroke-width="0.12" letter-spacing="0.05" ><tspan font-size="6.2" dy="-0.6">−</tspan><tspan dy="0.6"></tspan>4</text>
<line x1="48.10" y1="451.98" x2="53.60" y2="451.98" stroke="#2b2b2b" stroke-width="1.1" />
<text x="46.60" y="455.42" font-size="8.4" text-anchor="end" fill="#231f20" stroke="#231f20" stroke-width="0.12" letter-spacing="0.05" ><tspan font-size="6.2" dy="-0.6">−</tspan><tspan dy="0.6"></tspan>6</text>
<line x1="48.10" y1="475.64" x2="53.60" y2="475.64" stroke="#2b2b2b" stroke-width="1.1" />
<text x="46.60" y="479.08" font-size="8.4" text-anchor="end" fill="#231f20" stroke="#231f20" stroke-width="0.12" letter-spacing="0.05" ><tspan font-size="6.2" dy="-0.6">−</tspan><tspan dy="0.6"></tspan>8</text>
<line x1="53.60" y1="487.12" x2="53.60" y2="492.62" stroke="#2b2b2b" stroke-width="1.1" />
<text x="53.60" y="501.56" font-size="8.4" text-anchor="middle" fill="#231f20" stroke="#231f20" stroke-width="0.12" letter-spacing="0.05" >0</text>
<line x1="81.85" y1="487.12" x2="81.85" y2="492.62" stroke="#2b2b2b" stroke-width="1.1" />
<text x="81.85" y="501.56" font-size="8.4" text-anchor="middle" fill="#231f20" stroke="#231f20" stroke-width="0.12" letter-spacing="0.05" >4</text>
<line x1="110.10" y1="487.12" x2="110.10" y2="492.62" stroke="#2b2b2b" stroke-width="1.1" />
<text x="110.10" y="501.56" font-size="8.4" text-anchor="middle" fill="#231f20" stroke="#231f20" stroke-width="0.12" letter-spacing="0.05" >8</text>
<line x1="138.35" y1="487.12" x2="138.35" y2="492.62" stroke="#2b2b2b" stroke-width="1.1" />
<text x="138.35" y="501.56" font-size="8.4" text-anchor="middle" fill="#231f20" stroke="#231f20" stroke-width="0.12" letter-spacing="0.05" >12</text>
<line x1="166.60" y1="487.12" x2="166.60" y2="492.62" stroke="#2b2b2b" stroke-width="1.1" />
<text x="166.60" y="501.56" font-size="8.4" text-anchor="middle" fill="#231f20" stroke="#231f20" stroke-width="0.12" letter-spacing="0.05" >16</text>
<line x1="194.85" y1="487.12" x2="194.85" y2="492.62" stroke="#2b2b2b" stroke-width="1.1" />
<text x="194.85" y="501.56" font-size="8.4" text-anchor="middle" fill="#231f20" stroke="#231f20" stroke-width="0.12" letter-spacing="0.05" >20</text>
<polyline points="53.60,381.00 81.85,387.30 110.10,388.70 138.35,388.70 166.60,390.80 194.85,396.29" fill="none" stroke="#8e8e8e" stroke-width="1.25"/>
<line x1="81.85" y1="383.80" x2="81.85" y2="390.80" stroke="#7c7c7c" stroke-width="0.9" />
<line x1="79.85" y1="383.80" x2="83.85" y2="383.80" stroke="#7c7c7c" stroke-width="0.9" />
<line x1="79.85" y1="390.80" x2="83.85" y2="390.80" stroke="#7c7c7c" stroke-width="0.9" />
<circle cx="81.85" cy="387.30" r="1.25" fill="#7c7c7c"/>
<line x1="110.10" y1="384.03" x2="110.10" y2="393.37" stroke="#7c7c7c" stroke-width="0.9" />
<line x1="108.10" y1="384.03" x2="112.10" y2="384.03" stroke="#7c7c7c" stroke-width="0.9" />
<line x1="108.10" y1="393.37" x2="112.10" y2="393.37" stroke="#7c7c7c" stroke-width="0.9" />
<circle cx="110.10" cy="388.70" r="1.25" fill="#7c7c7c"/>
<line x1="138.35" y1="382.87" x2="138.35" y2="394.54" stroke="#7c7c7c" stroke-width="0.9" />
<line x1="136.35" y1="382.87" x2="140.35" y2="382.87" stroke="#7c7c7c" stroke-width="0.9" />
<line x1="136.35" y1="394.54" x2="140.35" y2="394.54" stroke="#7c7c7c" stroke-width="0.9" />
<circle cx="138.35" cy="388.70" r="1.25" fill="#7c7c7c"/>
<line x1="166.60" y1="384.38" x2="166.60" y2="397.22" stroke="#7c7c7c" stroke-width="0.9" />
<line x1="164.60" y1="384.38" x2="168.60" y2="384.38" stroke="#7c7c7c" stroke-width="0.9" />
<line x1="164.60" y1="397.22" x2="168.60" y2="397.22" stroke="#7c7c7c" stroke-width="0.9" />
<circle cx="166.60" cy="390.80" r="1.25" fill="#7c7c7c"/>
<line x1="194.85" y1="388.35" x2="194.85" y2="404.22" stroke="#7c7c7c" stroke-width="0.9" />
<line x1="192.85" y1="388.35" x2="196.85" y2="388.35" stroke="#7c7c7c" stroke-width="0.9" />
<line x1="192.85" y1="404.22" x2="196.85" y2="404.22" stroke="#7c7c7c" stroke-width="0.9" />
<circle cx="194.85" cy="396.29" r="1.25" fill="#7c7c7c"/>
<polyline points="53.60,381.00 81.85,400.84 110.10,421.96 138.35,446.24 166.60,457.56 194.85,465.49" fill="none" stroke="#0a5596" stroke-width="1.1"/>
<line x1="81.85" y1="397.34" x2="81.85" y2="404.34" stroke="#0a5596" stroke-width="0.9" />
<line x1="79.85" y1="397.34" x2="83.85" y2="397.34" stroke="#0a5596" stroke-width="0.9" />
<line x1="79.85" y1="404.34" x2="83.85" y2="404.34" stroke="#0a5596" stroke-width="0.9" />
<circle cx="81.85" cy="400.84" r="1.25" fill="#0a5596"/>
<line x1="110.10" y1="416.71" x2="110.10" y2="427.21" stroke="#0a5596" stroke-width="0.9" />
<line x1="108.10" y1="416.71" x2="112.10" y2="416.71" stroke="#0a5596" stroke-width="0.9" />
<line x1="108.10" y1="427.21" x2="112.10" y2="427.21" stroke="#0a5596" stroke-width="0.9" />
<circle cx="110.10" cy="421.96" r="1.25" fill="#0a5596"/>
<line x1="138.35" y1="439.82" x2="138.35" y2="452.65" stroke="#0a5596" stroke-width="0.9" />
<line x1="136.35" y1="439.82" x2="140.35" y2="439.82" stroke="#0a5596" stroke-width="0.9" />
<line x1="136.35" y1="452.65" x2="140.35" y2="452.65" stroke="#0a5596" stroke-width="0.9" />
<circle cx="138.35" cy="446.24" r="1.25" fill="#0a5596"/>
<line x1="166.60" y1="450.32" x2="166.60" y2="464.79" stroke="#0a5596" stroke-width="0.9" />
<line x1="164.60" y1="450.32" x2="168.60" y2="450.32" stroke="#0a5596" stroke-width="0.9" />
<line x1="164.60" y1="464.79" x2="168.60" y2="464.79" stroke="#0a5596" stroke-width="0.9" />
<circle cx="166.60" cy="457.56" r="1.25" fill="#0a5596"/>
<line x1="194.85" y1="457.56" x2="194.85" y2="473.43" stroke="#0a5596" stroke-width="0.9" />
<line x1="192.85" y1="457.56" x2="196.85" y2="457.56" stroke="#0a5596" stroke-width="0.9" />
<line x1="192.85" y1="473.43" x2="196.85" y2="473.43" stroke="#0a5596" stroke-width="0.9" />
<circle cx="194.85" cy="465.49" r="1.25" fill="#0a5596"/>
<polyline points="53.60,381.00 81.85,398.86 110.10,400.84 138.35,407.96 166.60,413.79 194.85,412.51" fill="none" stroke="#c03a2b" stroke-width="1.1"/>
<line x1="81.85" y1="395.35" x2="81.85" y2="402.36" stroke="#c03a2b" stroke-width="0.9" />
<line x1="79.85" y1="395.35" x2="83.85" y2="395.35" stroke="#c03a2b" stroke-width="0.9" />
<line x1="79.85" y1="402.36" x2="83.85" y2="402.36" stroke="#c03a2b" stroke-width="0.9" />
<circle cx="81.85" cy="398.86" r="1.25" fill="#c03a2b"/>
<line x1="110.10" y1="396.17" x2="110.10" y2="405.51" stroke="#c03a2b" stroke-width="0.9" />
<line x1="108.10" y1="396.17" x2="112.10" y2="396.17" stroke="#c03a2b" stroke-width="0.9" />
<line x1="108.10" y1="405.51" x2="112.10" y2="405.51" stroke="#c03a2b" stroke-width="0.9" />
<circle cx="110.10" cy="400.84" r="1.25" fill="#c03a2b"/>
<line x1="138.35" y1="402.71" x2="138.35" y2="413.21" stroke="#c03a2b" stroke-width="0.9" />
<line x1="136.35" y1="402.71" x2="140.35" y2="402.71" stroke="#c03a2b" stroke-width="0.9" />
<line x1="136.35" y1="413.21" x2="140.35" y2="413.21" stroke="#c03a2b" stroke-width="0.9" />
<circle cx="138.35" cy="407.96" r="1.25" fill="#c03a2b"/>
<line x1="166.60" y1="407.37" x2="166.60" y2="420.21" stroke="#c03a2b" stroke-width="0.9" />
<line x1="164.60" y1="407.37" x2="168.60" y2="407.37" stroke="#c03a2b" stroke-width="0.9" />
<line x1="164.60" y1="420.21" x2="168.60" y2="420.21" stroke="#c03a2b" stroke-width="0.9" />
<circle cx="166.60" cy="413.79" r="1.25" fill="#c03a2b"/>
<line x1="194.85" y1="404.57" x2="194.85" y2="420.44" stroke="#c03a2b" stroke-width="0.9" />
<line x1="192.85" y1="404.57" x2="196.85" y2="404.57" stroke="#c03a2b" stroke-width="0.9" />
<line x1="192.85" y1="420.44" x2="196.85" y2="420.44" stroke="#c03a2b" stroke-width="0.9" />
<circle cx="194.85" cy="412.51" r="1.25" fill="#c03a2b"/>
<polyline points="53.60,381.00 81.85,396.99 110.10,411.34 138.35,414.96 166.60,425.46 194.85,429.55" fill="none" stroke="#9ccbea" stroke-width="1.1"/>
<line x1="81.85" y1="393.49" x2="81.85" y2="400.49" stroke="#9ccbea" stroke-width="0.9" />
<line x1="79.85" y1="393.49" x2="83.85" y2="393.49" stroke="#9ccbea" stroke-width="0.9" />
<line x1="79.85" y1="400.49" x2="83.85" y2="400.49" stroke="#9ccbea" stroke-width="0.9" />
<path d="M81.85 395.19L83.65 396.99L81.85 398.79L80.05 396.99Z" fill="#9ccbea"/>
<line x1="110.10" y1="407.26" x2="110.10" y2="415.43" stroke="#9ccbea" stroke-width="0.9" />
<line x1="108.10" y1="407.26" x2="112.10" y2="407.26" stroke="#9ccbea" stroke-width="0.9" />
<line x1="108.10" y1="415.43" x2="112.10" y2="415.43" stroke="#9ccbea" stroke-width="0.9" />
<path d="M110.10 409.54L111.90 411.34L110.10 413.14L108.30 411.34Z" fill="#9ccbea"/>
<line x1="138.35" y1="409.71" x2="138.35" y2="420.21" stroke="#9ccbea" stroke-width="0.9" />
<line x1="136.35" y1="409.71" x2="140.35" y2="409.71" stroke="#9ccbea" stroke-width="0.9" />
<line x1="136.35" y1="420.21" x2="140.35" y2="420.21" stroke="#9ccbea" stroke-width="0.9" />
<path d="M138.35 413.16L140.15 414.96L138.35 416.76L136.55 414.96Z" fill="#9ccbea"/>
<line x1="166.60" y1="419.63" x2="166.60" y2="431.30" stroke="#9ccbea" stroke-width="0.9" />
<line x1="164.60" y1="419.63" x2="168.60" y2="419.63" stroke="#9ccbea" stroke-width="0.9" />
<line x1="164.60" y1="431.30" x2="168.60" y2="431.30" stroke="#9ccbea" stroke-width="0.9" />
<path d="M166.60 423.66L168.40 425.46L166.60 427.26L164.80 425.46Z" fill="#9ccbea"/>
<line x1="194.85" y1="422.08" x2="194.85" y2="437.02" stroke="#9ccbea" stroke-width="0.9" />
<line x1="192.85" y1="422.08" x2="196.85" y2="422.08" stroke="#9ccbea" stroke-width="0.9" />
<line x1="192.85" y1="437.02" x2="196.85" y2="437.02" stroke="#9ccbea" stroke-width="0.9" />
<path d="M194.85 427.75L196.65 429.55L194.85 431.35L193.05 429.55Z" fill="#9ccbea"/>
<polyline points="53.60,381.00 81.85,394.65 110.10,410.76 138.35,424.30 166.60,433.05 194.85,443.78" fill="none" stroke="#13b1e2" stroke-width="1.1"/>
<line x1="81.85" y1="391.15" x2="81.85" y2="398.15" stroke="#13b1e2" stroke-width="0.9" />
<line x1="79.85" y1="391.15" x2="83.85" y2="391.15" stroke="#13b1e2" stroke-width="0.9" />
<line x1="79.85" y1="398.15" x2="83.85" y2="398.15" stroke="#13b1e2" stroke-width="0.9" />
<rect x="80.10" y="392.90" width="3.50" height="3.50" fill="#13b1e2"/>
<line x1="110.10" y1="406.09" x2="110.10" y2="415.43" stroke="#13b1e2" stroke-width="0.9" />
<line x1="108.10" y1="406.09" x2="112.10" y2="406.09" stroke="#13b1e2" stroke-width="0.9" />
<line x1="108.10" y1="415.43" x2="112.10" y2="415.43" stroke="#13b1e2" stroke-width="0.9" />
<rect x="108.35" y="409.01" width="3.50" height="3.50" fill="#13b1e2"/>
<line x1="138.35" y1="418.46" x2="138.35" y2="430.13" stroke="#13b1e2" stroke-width="0.9" />
<line x1="136.35" y1="418.46" x2="140.35" y2="418.46" stroke="#13b1e2" stroke-width="0.9" />
<line x1="136.35" y1="430.13" x2="140.35" y2="430.13" stroke="#13b1e2" stroke-width="0.9" />
<rect x="136.60" y="422.55" width="3.50" height="3.50" fill="#13b1e2"/>
<line x1="166.60" y1="426.05" x2="166.60" y2="440.05" stroke="#13b1e2" stroke-width="0.9" />
<line x1="164.60" y1="426.05" x2="168.60" y2="426.05" stroke="#13b1e2" stroke-width="0.9" />
<line x1="164.60" y1="440.05" x2="168.60" y2="440.05" stroke="#13b1e2" stroke-width="0.9" />
<rect x="164.85" y="431.30" width="3.50" height="3.50" fill="#13b1e2"/>
<line x1="194.85" y1="435.38" x2="194.85" y2="452.19" stroke="#13b1e2" stroke-width="0.9" />
<line x1="192.85" y1="435.38" x2="196.85" y2="435.38" stroke="#13b1e2" stroke-width="0.9" />
<line x1="192.85" y1="452.19" x2="196.85" y2="452.19" stroke="#13b1e2" stroke-width="0.9" />
<rect x="193.10" y="442.03" width="3.50" height="3.50" fill="#13b1e2"/>
<text x="213.75" y="400.37" font-size="7.9" text-anchor="start" fill="#231f20" stroke="#231f20" stroke-width="0.12" letter-spacing="0.05" ><tspan font-size="6.2" dy="-0.6">−</tspan><tspan dy="0.6"></tspan>1.4%</text>
<text x="213.75" y="416.26" font-size="7.9" text-anchor="start" fill="#231f20" stroke="#231f20" stroke-width="0.12" letter-spacing="0.05" ><tspan font-size="6.2" dy="-0.6">−</tspan><tspan dy="0.6"></tspan>2.7%</text>
<text x="213.75" y="432.76" font-size="7.9" text-anchor="start" fill="#231f20" stroke="#231f20" stroke-width="0.12" letter-spacing="0.05" ><tspan font-size="6.2" dy="-0.6">−</tspan><tspan dy="0.6"></tspan>4.1%</text>
<text x="213.75" y="447.56" font-size="7.9" text-anchor="start" fill="#231f20" stroke="#231f20" stroke-width="0.12" letter-spacing="0.05" ><tspan font-size="6.2" dy="-0.6">−</tspan><tspan dy="0.6"></tspan>5.3%</text>
<text x="213.75" y="468.37" font-size="7.9" text-anchor="start" fill="#231f20" stroke="#231f20" stroke-width="0.12" letter-spacing="0.05" ><tspan font-size="6.2" dy="-0.6">−</tspan><tspan dy="0.6"></tspan>7.1%</text>
<text x="152.50" y="515.40" font-size="8.0" text-anchor="middle" fill="#231f20" stroke="#231f20" stroke-width="0.12" letter-spacing="0.05" >Time  (weeks)</text>
<text x="0" y="0" font-size="8.1" text-anchor="middle" fill="#231f20" stroke="#231f20" stroke-width="0.12" letter-spacing="0.05" transform="translate(20.34,435.50) rotate(-90)">Percent change from baseline</text>
<text x="0" y="0" font-size="8.1" text-anchor="middle" fill="#231f20" stroke="#231f20" stroke-width="0.12" letter-spacing="0.05" transform="translate(31.84,435.00) rotate(-90)">in body weight (%)</text>
<rect x="46.75" y="536" width="13" height="7" fill="#9ccbea" stroke="#000" stroke-opacity="0.4" stroke-width="0.7"/>
<text x="67.50" y="542.30" font-size="8.0" text-anchor="start" fill="#231f20" stroke="#231f20" stroke-width="0.12" letter-spacing="0.05" >Mazdutide 3 mg</text>
<rect x="133.00" y="536" width="13" height="7" fill="#13b1e2" stroke="#000" stroke-opacity="0.4" stroke-width="0.7"/>
<text x="155.50" y="542.30" font-size="8.0" text-anchor="start" fill="#231f20" stroke="#231f20" stroke-width="0.12" letter-spacing="0.05" >Mazdutide 4.5 mg</text>
<rect x="227.50" y="536" width="13" height="7" fill="#0a5596" stroke="#000" stroke-opacity="0.4" stroke-width="0.7"/>
<text x="247.50" y="542.30" font-size="8.0" text-anchor="start" fill="#231f20" stroke="#231f20" stroke-width="0.12" letter-spacing="0.05" >Mazdutide 6 mg</text>
<rect x="314.25" y="536" width="13" height="7" fill="#c03a2b" stroke="#000" stroke-opacity="0.4" stroke-width="0.7"/>
<text x="335.00" y="542.30" font-size="8.0" text-anchor="start" fill="#231f20" stroke="#231f20" stroke-width="0.12" letter-spacing="0.05" >Dulaglutide 1.5 mg</text>
<rect x="410.50" y="536" width="13" height="7" fill="#7c7c7c" stroke="#000" stroke-opacity="0.4" stroke-width="0.7"/>
<text x="431.25" y="542.30" font-size="8.0" text-anchor="start" fill="#231f20" stroke="#231f20" stroke-width="0.12" letter-spacing="0.05" >Placebo</text>
</svg></body></html>
